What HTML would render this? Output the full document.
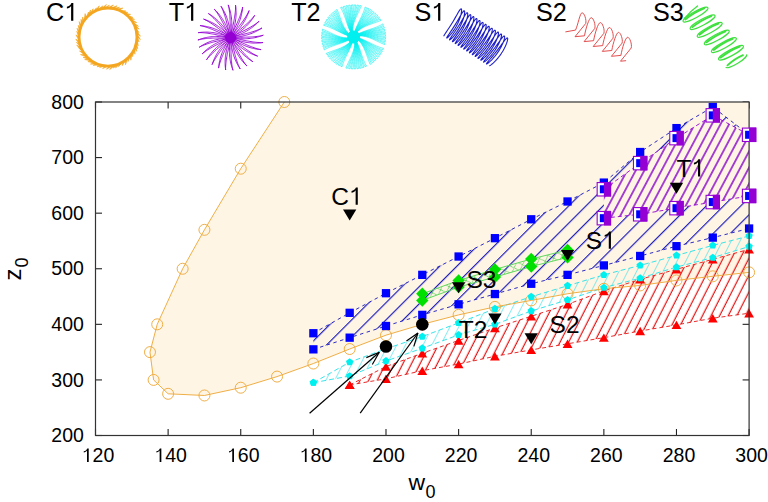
<!DOCTYPE html><html><head><meta charset="utf-8"><style>html,body{margin:0;padding:0;background:#fff;width:768px;height:502px;overflow:hidden}svg{display:block}</style></head><body>
<svg width="768" height="502" viewBox="0 0 768 502">
<defs>
<clipPath id="plot"><rect x="95.5" y="102" width="653.6" height="333.5"/></clipPath>
<pattern id="hb" patternUnits="userSpaceOnUse" width="40" height="12.16" patternTransform="rotate(-45)"><line x1="-1" y1="0.64" x2="41" y2="0.64" stroke="#1a1ab8" stroke-width="1.25"/><line x1="-1" y1="-11.53" x2="41" y2="-11.53" stroke="#1a1ab8" stroke-width="1.25"/></pattern>
<pattern id="hp" patternUnits="userSpaceOnUse" width="40" height="7.59" patternTransform="rotate(-62)"><line x1="-1" y1="3.8" x2="41" y2="3.8" stroke="#8400cc" stroke-width="1.2"/><line x1="-1" y1="-3.79" x2="41" y2="-3.79" stroke="#8400cc" stroke-width="1.2"/></pattern>
<pattern id="hr" patternUnits="userSpaceOnUse" width="40" height="7.66" patternTransform="rotate(-63)"><line x1="-1" y1="3.17" x2="41" y2="3.17" stroke="#e61414" stroke-width="1.1"/><line x1="-1" y1="-4.49" x2="41" y2="-4.49" stroke="#e61414" stroke-width="1.1"/></pattern>
<pattern id="hc" patternUnits="userSpaceOnUse" width="40" height="7.84" patternTransform="rotate(-63)"><line x1="-1" y1="0.04" x2="41" y2="0.04" stroke="#10dce6" stroke-width="1.1"/><line x1="-1" y1="-7.81" x2="41" y2="-7.81" stroke="#10dce6" stroke-width="1.1"/></pattern>
<pattern id="hg" patternUnits="userSpaceOnUse" width="9" height="9" patternTransform="rotate(-20)"><path d="M-1,-1L10,10M10,-1L-1,10" stroke="#48c848" stroke-width="0.75" fill="none"/></pattern>
</defs>
<line x1="95.5" y1="435.5" x2="95.5" y2="429" stroke="#222" stroke-width="1.1"/>
<line x1="95.5" y1="102" x2="95.5" y2="108.5" stroke="#222" stroke-width="1.1"/>
<path transform="translate(81.73,462.1) scale(19.5,-19.5)" d="M0.359,0L0.359,0.703L0.285,0.703C0.25,0.62 0.19,0.575 0.104,0.562L0.104,0.49C0.17,0.5 0.24,0.53 0.271,0.589L0.271,0Z" fill="#000"/><text x="92.58 103.42" y="462.1" font-size="19.5" fill="#000" font-family="Liberation Sans, sans-serif">20</text>
<line x1="168.12" y1="435.5" x2="168.12" y2="429" stroke="#222" stroke-width="1.1"/>
<line x1="168.12" y1="102" x2="168.12" y2="108.5" stroke="#222" stroke-width="1.1"/>
<path transform="translate(154.35,462.1) scale(19.5,-19.5)" d="M0.359,0L0.359,0.703L0.285,0.703C0.25,0.62 0.19,0.575 0.104,0.562L0.104,0.49C0.17,0.5 0.24,0.53 0.271,0.589L0.271,0Z" fill="#000"/><text x="165.2 176.04" y="462.1" font-size="19.5" fill="#000" font-family="Liberation Sans, sans-serif">40</text>
<line x1="240.74" y1="435.5" x2="240.74" y2="429" stroke="#222" stroke-width="1.1"/>
<line x1="240.74" y1="102" x2="240.74" y2="108.5" stroke="#222" stroke-width="1.1"/>
<path transform="translate(226.98,462.1) scale(19.5,-19.5)" d="M0.359,0L0.359,0.703L0.285,0.703C0.25,0.62 0.19,0.575 0.104,0.562L0.104,0.49C0.17,0.5 0.24,0.53 0.271,0.589L0.271,0Z" fill="#000"/><text x="237.82 248.67" y="462.1" font-size="19.5" fill="#000" font-family="Liberation Sans, sans-serif">60</text>
<line x1="313.37" y1="435.5" x2="313.37" y2="429" stroke="#222" stroke-width="1.1"/>
<line x1="313.37" y1="102" x2="313.37" y2="108.5" stroke="#222" stroke-width="1.1"/>
<path transform="translate(299.6,462.1) scale(19.5,-19.5)" d="M0.359,0L0.359,0.703L0.285,0.703C0.25,0.62 0.19,0.575 0.104,0.562L0.104,0.49C0.17,0.5 0.24,0.53 0.271,0.589L0.271,0Z" fill="#000"/><text x="310.44 321.29" y="462.1" font-size="19.5" fill="#000" font-family="Liberation Sans, sans-serif">80</text>
<line x1="385.99" y1="435.5" x2="385.99" y2="429" stroke="#222" stroke-width="1.1"/>
<line x1="385.99" y1="102" x2="385.99" y2="108.5" stroke="#222" stroke-width="1.1"/>
<text x="372.22 383.07 393.91" y="462.1" font-size="19.5" fill="#000" font-family="Liberation Sans, sans-serif">200</text>
<line x1="458.61" y1="435.5" x2="458.61" y2="429" stroke="#222" stroke-width="1.1"/>
<line x1="458.61" y1="102" x2="458.61" y2="108.5" stroke="#222" stroke-width="1.1"/>
<text x="444.84 455.69 466.53" y="462.1" font-size="19.5" fill="#000" font-family="Liberation Sans, sans-serif">220</text>
<line x1="531.23" y1="435.5" x2="531.23" y2="429" stroke="#222" stroke-width="1.1"/>
<line x1="531.23" y1="102" x2="531.23" y2="108.5" stroke="#222" stroke-width="1.1"/>
<text x="517.47 528.31 539.16" y="462.1" font-size="19.5" fill="#000" font-family="Liberation Sans, sans-serif">240</text>
<line x1="603.86" y1="435.5" x2="603.86" y2="429" stroke="#222" stroke-width="1.1"/>
<line x1="603.86" y1="102" x2="603.86" y2="108.5" stroke="#222" stroke-width="1.1"/>
<text x="590.09 600.93 611.78" y="462.1" font-size="19.5" fill="#000" font-family="Liberation Sans, sans-serif">260</text>
<line x1="676.48" y1="435.5" x2="676.48" y2="429" stroke="#222" stroke-width="1.1"/>
<line x1="676.48" y1="102" x2="676.48" y2="108.5" stroke="#222" stroke-width="1.1"/>
<text x="662.71 673.56 684.4" y="462.1" font-size="19.5" fill="#000" font-family="Liberation Sans, sans-serif">280</text>
<line x1="749.1" y1="435.5" x2="749.1" y2="429" stroke="#222" stroke-width="1.1"/>
<line x1="749.1" y1="102" x2="749.1" y2="108.5" stroke="#222" stroke-width="1.1"/>
<text x="735.33 746.18 757.02" y="462.1" font-size="19.5" fill="#000" font-family="Liberation Sans, sans-serif">300</text>
<line x1="95.5" y1="435.5" x2="102" y2="435.5" stroke="#222" stroke-width="1.1"/>
<line x1="749.1" y1="435.5" x2="742.6" y2="435.5" stroke="#222" stroke-width="1.1"/>
<text x="51.37 62.21 73.06" y="442.1" font-size="19.5" fill="#000" font-family="Liberation Sans, sans-serif">200</text>
<line x1="95.5" y1="379.92" x2="102" y2="379.92" stroke="#222" stroke-width="1.1"/>
<line x1="749.1" y1="379.92" x2="742.6" y2="379.92" stroke="#222" stroke-width="1.1"/>
<text x="51.37 62.21 73.06" y="386.52" font-size="19.5" fill="#000" font-family="Liberation Sans, sans-serif">300</text>
<line x1="95.5" y1="324.33" x2="102" y2="324.33" stroke="#222" stroke-width="1.1"/>
<line x1="749.1" y1="324.33" x2="742.6" y2="324.33" stroke="#222" stroke-width="1.1"/>
<text x="51.37 62.21 73.06" y="330.93" font-size="19.5" fill="#000" font-family="Liberation Sans, sans-serif">400</text>
<line x1="95.5" y1="268.75" x2="102" y2="268.75" stroke="#222" stroke-width="1.1"/>
<line x1="749.1" y1="268.75" x2="742.6" y2="268.75" stroke="#222" stroke-width="1.1"/>
<text x="51.37 62.21 73.06" y="275.35" font-size="19.5" fill="#000" font-family="Liberation Sans, sans-serif">500</text>
<line x1="95.5" y1="213.17" x2="102" y2="213.17" stroke="#222" stroke-width="1.1"/>
<line x1="749.1" y1="213.17" x2="742.6" y2="213.17" stroke="#222" stroke-width="1.1"/>
<text x="51.37 62.21 73.06" y="219.77" font-size="19.5" fill="#000" font-family="Liberation Sans, sans-serif">600</text>
<line x1="95.5" y1="157.58" x2="102" y2="157.58" stroke="#222" stroke-width="1.1"/>
<line x1="749.1" y1="157.58" x2="742.6" y2="157.58" stroke="#222" stroke-width="1.1"/>
<text x="51.37 62.21 73.06" y="164.18" font-size="19.5" fill="#000" font-family="Liberation Sans, sans-serif">700</text>
<line x1="95.5" y1="102" x2="102" y2="102" stroke="#222" stroke-width="1.1"/>
<line x1="749.1" y1="102" x2="742.6" y2="102" stroke="#222" stroke-width="1.1"/>
<text x="51.37 62.21 73.06" y="108.6" font-size="19.5" fill="#000" font-family="Liberation Sans, sans-serif">800</text>
<g clip-path="url(#plot)">
<polygon points="284.32,102 240.74,168.7 204.43,229.84 182.65,268.75 157.23,324.33 149.97,352.12 153.6,379.92 168.12,393.81 204.43,395.48 240.74,387.7 277.06,376.58 313.37,363.52 349.68,349.01 385.99,335.17 422.3,324.33 458.61,314.88 494.92,306.88 531.23,300.43 567.54,293.76 603.86,288.76 640.17,285.43 676.48,280.42 712.79,276.31 749.1,272.36 751.1,100 284.32,100" fill="#fff5e5"/>
<polygon points="349.68,384.92 385.99,366.58 422.3,353.24 458.61,340.45 494.92,327.95 531.23,316.27 567.54,304.32 603.86,290.98 640.17,279.31 676.48,269.31 712.79,259.3 749.1,249.3 749.1,313.22 712.79,318.22 676.48,324.89 640.17,331 603.86,337.67 567.54,343.79 531.23,349.9 494.92,356.29 458.61,364.08 422.3,370.69 385.99,378.81 349.68,384.92" fill="url(#hr)" />
<polygon points="313.37,382.7 349.68,362.13 385.99,348.79 422.3,336.56 458.61,322.89 494.92,308.77 531.23,296.76 567.54,285.76 603.86,274.86 640.17,265.41 676.48,255.41 712.79,245.41 749.1,235.96 749.1,246.52 712.79,257.63 676.48,267.08 640.17,278.2 603.86,287.65 567.54,299.88 531.23,310.99 494.92,324.33 458.61,334.89 422.3,348.23 385.99,361.02 349.68,376.03 313.37,382.7" fill="url(#hc)" />
<polygon points="422.3,293.76 458.61,280.42 494.92,269.47 531.23,258.97 567.54,250.02 567.54,257.41 531.23,266.53 494.92,277.09 458.61,287.09 422.3,300.43" fill="url(#hg)" />
<polygon points="313.37,333.23 349.68,312.83 385.99,293.21 422.3,274.86 458.61,256.52 494.92,238.18 531.23,219.28 567.54,201.49 603.86,182.6 640.17,152.02 676.48,128.12 712.79,107 749.1,134.79 749.1,228.51 712.79,237.62 676.48,246.18 640.17,255.97 603.86,265.41 567.54,274.86 531.23,283.76 494.92,294.04 458.61,304.32 422.3,314.88 385.99,326 349.68,337.67 313.37,349.35" fill="url(#hb)" />
<polygon points="603.86,189.27 640.17,163.14 676.48,138.13 712.79,115.34 749.1,134.79 749.1,195.94 712.79,202.05 676.48,208.16 640.17,214.28 603.86,218.17" fill="#fff5e5" />
<polygon points="603.86,189.27 640.17,163.14 676.48,138.13 712.79,115.34 749.1,134.79 749.1,195.94 712.79,202.05 676.48,208.16 640.17,214.28 603.86,218.17" fill="url(#hp)" />
<polyline points="349.68,384.92 385.99,366.58 422.3,353.24 458.61,340.45 494.92,327.95 531.23,316.27 567.54,304.32 603.86,290.98 640.17,279.31 676.48,269.31 712.79,259.3 749.1,249.3" fill="none" stroke="#e61414" stroke-width="0.9" stroke-dasharray="4,3"/>
<polyline points="349.68,384.92 385.99,378.81 422.3,370.69 458.61,364.08 494.92,356.29 531.23,349.9 567.54,343.79 603.86,337.67 640.17,331 676.48,324.89 712.79,318.22 749.1,313.22" fill="none" stroke="#e61414" stroke-width="0.9" stroke-dasharray="4,3"/>
<polyline points="313.37,382.7 349.68,362.13 385.99,348.79 422.3,336.56 458.61,322.89 494.92,308.77 531.23,296.76 567.54,285.76 603.86,274.86 640.17,265.41 676.48,255.41 712.79,245.41 749.1,235.96" fill="none" stroke="#20e0e8" stroke-width="0.9" stroke-dasharray="5,3"/>
<polyline points="313.37,382.7 349.68,376.03 385.99,361.02 422.3,348.23 458.61,334.89 494.92,324.33 531.23,310.99 567.54,299.88 603.86,287.65 640.17,278.2 676.48,267.08 712.79,257.63 749.1,246.52" fill="none" stroke="#20e0e8" stroke-width="0.9" stroke-dasharray="5,3"/>
<polyline points="313.37,333.23 349.68,312.83 385.99,293.21 422.3,274.86 458.61,256.52 494.92,238.18 531.23,219.28 567.54,201.49 603.86,182.6 640.17,152.02 676.48,128.12 712.79,107 749.1,134.79" fill="none" stroke="#1414c0" stroke-width="0.9" stroke-dasharray="3.5,3.5"/>
<polyline points="313.37,349.35 349.68,337.67 385.99,326 422.3,314.88 458.61,304.32 494.92,294.04 531.23,283.76 567.54,274.86 603.86,265.41 640.17,255.97 676.48,246.18 712.79,237.62 749.1,228.51" fill="none" stroke="#1414c0" stroke-width="0.9" stroke-dasharray="3.5,3.5"/>
<polyline points="603.86,189.27 640.17,163.14 676.48,138.13 712.79,115.34 749.1,134.79" fill="none" stroke="#9400d3" stroke-width="0.9" stroke-dasharray="4,3"/>
<polyline points="603.86,218.17 640.17,214.28 676.48,208.16 712.79,202.05 749.1,195.94" fill="none" stroke="#9400d3" stroke-width="0.9" stroke-dasharray="4,3"/>
<polyline points="422.3,293.76 458.61,280.42 494.92,269.47 531.23,258.97 567.54,250.02" fill="none" stroke="#60d860" stroke-width="1"/>
<polyline points="422.3,300.43 458.61,287.09 494.92,277.09 531.23,266.53 567.54,257.41" fill="none" stroke="#60d860" stroke-width="1"/>
<polyline points="284.32,102 240.74,168.7 204.43,229.84 182.65,268.75 157.23,324.33 149.97,352.12 153.6,379.92 168.12,393.81 204.43,395.48 240.74,387.7 277.06,376.58 313.37,363.52 349.68,349.01 385.99,335.17 422.3,324.33 458.61,314.88 494.92,306.88 531.23,300.43 567.54,293.76 603.86,288.76 640.17,285.43 676.48,280.42 712.79,276.31 749.1,272.36" fill="none" stroke="#eeaa3c" stroke-width="0.95"/>
</g>
<circle cx="284.32" cy="102" r="5.5" fill="none" stroke="#eeaa3c" stroke-width="0.95"/>
<circle cx="240.74" cy="168.7" r="5.5" fill="none" stroke="#eeaa3c" stroke-width="0.95"/>
<circle cx="204.43" cy="229.84" r="5.5" fill="none" stroke="#eeaa3c" stroke-width="0.95"/>
<circle cx="182.65" cy="268.75" r="5.5" fill="none" stroke="#eeaa3c" stroke-width="0.95"/>
<circle cx="157.23" cy="324.33" r="5.5" fill="none" stroke="#eeaa3c" stroke-width="0.95"/>
<circle cx="149.97" cy="352.12" r="5.5" fill="none" stroke="#eeaa3c" stroke-width="0.95"/>
<circle cx="153.6" cy="379.92" r="5.5" fill="none" stroke="#eeaa3c" stroke-width="0.95"/>
<circle cx="168.12" cy="393.81" r="5.5" fill="none" stroke="#eeaa3c" stroke-width="0.95"/>
<circle cx="204.43" cy="395.48" r="5.5" fill="none" stroke="#eeaa3c" stroke-width="0.95"/>
<circle cx="240.74" cy="387.7" r="5.5" fill="none" stroke="#eeaa3c" stroke-width="0.95"/>
<circle cx="277.06" cy="376.58" r="5.5" fill="none" stroke="#eeaa3c" stroke-width="0.95"/>
<circle cx="313.37" cy="363.52" r="5.5" fill="none" stroke="#eeaa3c" stroke-width="0.95"/>
<circle cx="349.68" cy="349.01" r="5.5" fill="none" stroke="#eeaa3c" stroke-width="0.95"/>
<circle cx="385.99" cy="335.17" r="5.5" fill="none" stroke="#eeaa3c" stroke-width="0.95"/>
<circle cx="422.3" cy="324.33" r="5.5" fill="none" stroke="#eeaa3c" stroke-width="0.95"/>
<circle cx="458.61" cy="314.88" r="5.5" fill="none" stroke="#eeaa3c" stroke-width="0.95"/>
<circle cx="494.92" cy="306.88" r="5.5" fill="none" stroke="#eeaa3c" stroke-width="0.95"/>
<circle cx="531.23" cy="300.43" r="5.5" fill="none" stroke="#eeaa3c" stroke-width="0.95"/>
<circle cx="567.54" cy="293.76" r="5.5" fill="none" stroke="#eeaa3c" stroke-width="0.95"/>
<circle cx="603.86" cy="288.76" r="5.5" fill="none" stroke="#eeaa3c" stroke-width="0.95"/>
<circle cx="640.17" cy="285.43" r="5.5" fill="none" stroke="#eeaa3c" stroke-width="0.95"/>
<circle cx="676.48" cy="280.42" r="5.5" fill="none" stroke="#eeaa3c" stroke-width="0.95"/>
<circle cx="712.79" cy="276.31" r="5.5" fill="none" stroke="#eeaa3c" stroke-width="0.95"/>
<circle cx="749.1" cy="272.36" r="5.5" fill="none" stroke="#eeaa3c" stroke-width="0.95"/>
<polygon points="344.78,389.12 354.58,389.12 349.68,380.72" fill="#ff0000"/>
<polygon points="381.09,370.78 390.89,370.78 385.99,362.38" fill="#ff0000"/>
<polygon points="417.4,357.44 427.2,357.44 422.3,349.04" fill="#ff0000"/>
<polygon points="453.71,344.65 463.51,344.65 458.61,336.25" fill="#ff0000"/>
<polygon points="490.02,332.15 499.82,332.15 494.92,323.75" fill="#ff0000"/>
<polygon points="526.33,320.47 536.13,320.47 531.23,312.07" fill="#ff0000"/>
<polygon points="562.64,308.52 572.44,308.52 567.54,300.12" fill="#ff0000"/>
<polygon points="598.96,295.18 608.76,295.18 603.86,286.78" fill="#ff0000"/>
<polygon points="635.27,283.51 645.07,283.51 640.17,275.11" fill="#ff0000"/>
<polygon points="671.58,273.51 681.38,273.51 676.48,265.11" fill="#ff0000"/>
<polygon points="707.89,263.5 717.69,263.5 712.79,255.1" fill="#ff0000"/>
<polygon points="744.2,253.5 754,253.5 749.1,245.1" fill="#ff0000"/>
<polygon points="344.78,389.12 354.58,389.12 349.68,380.72" fill="#ff0000"/>
<polygon points="381.09,383 390.89,383 385.99,374.61" fill="#ff0000"/>
<polygon points="417.4,374.89 427.2,374.89 422.3,366.49" fill="#ff0000"/>
<polygon points="453.71,368.28 463.51,368.28 458.61,359.88" fill="#ff0000"/>
<polygon points="490.02,360.49 499.82,360.49 494.92,352.09" fill="#ff0000"/>
<polygon points="526.33,354.1 536.13,354.1 531.23,345.7" fill="#ff0000"/>
<polygon points="562.64,347.99 572.44,347.99 567.54,339.59" fill="#ff0000"/>
<polygon points="598.96,341.87 608.76,341.87 603.86,333.47" fill="#ff0000"/>
<polygon points="635.27,335.2 645.07,335.2 640.17,326.8" fill="#ff0000"/>
<polygon points="671.58,329.09 681.38,329.09 676.48,320.69" fill="#ff0000"/>
<polygon points="707.89,322.42 717.69,322.42 712.79,314.02" fill="#ff0000"/>
<polygon points="744.2,317.42 754,317.42 749.1,309.02" fill="#ff0000"/>
<polygon points="313.37,378.8 317.08,381.49 315.66,385.85 311.07,385.85 309.66,381.49" fill="#00f0f0"/>
<polygon points="349.68,358.23 353.39,360.92 351.97,365.29 347.39,365.29 345.97,360.92" fill="#00f0f0"/>
<polygon points="385.99,344.89 389.7,347.58 388.28,351.95 383.7,351.95 382.28,347.58" fill="#00f0f0"/>
<polygon points="422.3,332.66 426.01,335.36 424.59,339.72 420.01,339.72 418.59,335.36" fill="#00f0f0"/>
<polygon points="458.61,318.99 462.32,321.68 460.9,326.04 456.32,326.04 454.9,321.68" fill="#00f0f0"/>
<polygon points="494.92,304.87 498.63,307.56 497.21,311.93 492.63,311.93 491.21,307.56" fill="#00f0f0"/>
<polygon points="531.23,292.86 534.94,295.56 533.53,299.92 528.94,299.92 527.52,295.56" fill="#00f0f0"/>
<polygon points="567.54,281.86 571.25,284.55 569.84,288.91 565.25,288.91 563.84,284.55" fill="#00f0f0"/>
<polygon points="603.86,270.96 607.56,273.66 606.15,278.02 601.56,278.02 600.15,273.66" fill="#00f0f0"/>
<polygon points="640.17,261.51 643.88,264.21 642.46,268.57 637.87,268.57 636.46,264.21" fill="#00f0f0"/>
<polygon points="676.48,251.51 680.19,254.2 678.77,258.57 674.19,258.57 672.77,254.2" fill="#00f0f0"/>
<polygon points="712.79,241.5 716.5,244.2 715.08,248.56 710.5,248.56 709.08,244.2" fill="#00f0f0"/>
<polygon points="749.1,232.06 752.81,234.75 751.39,239.11 746.81,239.11 745.39,234.75" fill="#00f0f0"/>
<polygon points="313.37,378.8 317.08,381.49 315.66,385.85 311.07,385.85 309.66,381.49" fill="#00f0f0"/>
<polygon points="349.68,372.13 353.39,374.82 351.97,379.18 347.39,379.18 345.97,374.82" fill="#00f0f0"/>
<polygon points="385.99,357.12 389.7,359.81 388.28,364.17 383.7,364.17 382.28,359.81" fill="#00f0f0"/>
<polygon points="422.3,344.33 426.01,347.03 424.59,351.39 420.01,351.39 418.59,347.03" fill="#00f0f0"/>
<polygon points="458.61,330.99 462.32,333.69 460.9,338.05 456.32,338.05 454.9,333.69" fill="#00f0f0"/>
<polygon points="494.92,320.43 498.63,323.13 497.21,327.49 492.63,327.49 491.21,323.13" fill="#00f0f0"/>
<polygon points="531.23,307.09 534.94,309.79 533.53,314.15 528.94,314.15 527.52,309.79" fill="#00f0f0"/>
<polygon points="567.54,295.98 571.25,298.67 569.84,303.03 565.25,303.03 563.84,298.67" fill="#00f0f0"/>
<polygon points="603.86,283.75 607.56,286.44 606.15,290.8 601.56,290.8 600.15,286.44" fill="#00f0f0"/>
<polygon points="640.17,274.3 643.88,276.99 642.46,281.35 637.87,281.35 636.46,276.99" fill="#00f0f0"/>
<polygon points="676.48,263.18 680.19,265.88 678.77,270.24 674.19,270.24 672.77,265.88" fill="#00f0f0"/>
<polygon points="712.79,253.73 716.5,256.43 715.08,260.79 710.5,260.79 709.08,256.43" fill="#00f0f0"/>
<polygon points="749.1,242.62 752.81,245.31 751.39,249.67 746.81,249.67 745.39,245.31" fill="#00f0f0"/>
<rect x="309.22" y="329.08" width="8.3" height="8.3" fill="#0000ff"/>
<rect x="345.53" y="308.68" width="8.3" height="8.3" fill="#0000ff"/>
<rect x="381.84" y="289.06" width="8.3" height="8.3" fill="#0000ff"/>
<rect x="418.15" y="270.71" width="8.3" height="8.3" fill="#0000ff"/>
<rect x="454.46" y="252.37" width="8.3" height="8.3" fill="#0000ff"/>
<rect x="490.77" y="234.03" width="8.3" height="8.3" fill="#0000ff"/>
<rect x="527.08" y="215.13" width="8.3" height="8.3" fill="#0000ff"/>
<rect x="563.39" y="197.34" width="8.3" height="8.3" fill="#0000ff"/>
<rect x="599.71" y="178.45" width="8.3" height="8.3" fill="#0000ff"/>
<rect x="636.02" y="147.87" width="8.3" height="8.3" fill="#0000ff"/>
<rect x="672.33" y="123.97" width="8.3" height="8.3" fill="#0000ff"/>
<rect x="708.64" y="102.85" width="8.3" height="8.3" fill="#0000ff"/>
<rect x="744.95" y="130.64" width="8.3" height="8.3" fill="#0000ff"/>
<rect x="309.22" y="345.2" width="8.3" height="8.3" fill="#0000ff"/>
<rect x="345.53" y="333.52" width="8.3" height="8.3" fill="#0000ff"/>
<rect x="381.84" y="321.85" width="8.3" height="8.3" fill="#0000ff"/>
<rect x="418.15" y="310.73" width="8.3" height="8.3" fill="#0000ff"/>
<rect x="454.46" y="300.17" width="8.3" height="8.3" fill="#0000ff"/>
<rect x="490.77" y="289.89" width="8.3" height="8.3" fill="#0000ff"/>
<rect x="527.08" y="279.61" width="8.3" height="8.3" fill="#0000ff"/>
<rect x="563.39" y="270.71" width="8.3" height="8.3" fill="#0000ff"/>
<rect x="599.71" y="261.26" width="8.3" height="8.3" fill="#0000ff"/>
<rect x="636.02" y="251.82" width="8.3" height="8.3" fill="#0000ff"/>
<rect x="672.33" y="242.03" width="8.3" height="8.3" fill="#0000ff"/>
<rect x="708.64" y="233.47" width="8.3" height="8.3" fill="#0000ff"/>
<rect x="744.95" y="224.36" width="8.3" height="8.3" fill="#0000ff"/>
<polygon points="422.3,287.56 428.5,293.76 422.3,299.96 416.1,293.76" fill="#00e000"/>
<polygon points="458.61,274.22 464.81,280.42 458.61,286.62 452.41,280.42" fill="#00e000"/>
<polygon points="494.92,263.27 501.12,269.47 494.92,275.67 488.72,269.47" fill="#00e000"/>
<polygon points="531.23,252.77 537.43,258.97 531.23,265.17 525.03,258.97" fill="#00e000"/>
<polygon points="567.54,243.82 573.74,250.02 567.54,256.22 561.34,250.02" fill="#00e000"/>
<polygon points="422.3,294.23 428.5,300.43 422.3,306.63 416.1,300.43" fill="#00e000"/>
<polygon points="458.61,280.89 464.81,287.09 458.61,293.29 452.41,287.09" fill="#00e000"/>
<polygon points="494.92,270.89 501.12,277.09 494.92,283.29 488.72,277.09" fill="#00e000"/>
<polygon points="531.23,260.33 537.43,266.53 531.23,272.73 525.03,266.53" fill="#00e000"/>
<polygon points="567.54,251.21 573.74,257.41 567.54,263.61 561.34,257.41" fill="#00e000"/>
<circle cx="385.99" cy="346.57" r="6.3" fill="#000"/>
<circle cx="422.3" cy="324.33" r="6.3" fill="#000"/>
<polygon points="343.03,209.5 356.33,209.5 349.68,220.5" fill="#000"/>
<polygon points="451.96,282.31 465.26,282.31 458.61,293.31" fill="#000"/>
<polygon points="560.89,250.08 574.19,250.08 567.54,261.08" fill="#000"/>
<polygon points="488.27,313.44 501.57,313.44 494.92,324.44" fill="#000"/>
<polygon points="524.58,333.17 537.88,333.17 531.23,344.17" fill="#000"/>
<polygon points="669.83,182.82 683.13,182.82 676.48,193.82" fill="#000"/>
<rect x="95.5" y="102" width="653.6" height="333.5" fill="none" stroke="#333" stroke-width="1.2"/>
<rect x="597.16" y="182.57" width="13.4" height="13.4" fill="#fff" stroke="#9400d3" stroke-width="1.1"/>
<rect x="599.86" y="185.27" width="8" height="8" fill="#0000ff"/>
<rect x="603.86" y="182.02" width="7.2" height="14.5" fill="#9400d3"/>
<rect x="633.47" y="156.44" width="13.4" height="13.4" fill="#fff" stroke="#9400d3" stroke-width="1.1"/>
<rect x="636.17" y="159.14" width="8" height="8" fill="#0000ff"/>
<rect x="640.17" y="155.89" width="7.2" height="14.5" fill="#9400d3"/>
<rect x="669.78" y="131.43" width="13.4" height="13.4" fill="#fff" stroke="#9400d3" stroke-width="1.1"/>
<rect x="672.48" y="134.13" width="8" height="8" fill="#0000ff"/>
<rect x="676.48" y="130.88" width="7.2" height="14.5" fill="#9400d3"/>
<rect x="706.09" y="108.64" width="13.4" height="13.4" fill="#fff" stroke="#9400d3" stroke-width="1.1"/>
<rect x="708.79" y="111.34" width="8" height="8" fill="#0000ff"/>
<rect x="712.79" y="108.09" width="7.2" height="14.5" fill="#9400d3"/>
<rect x="742.4" y="128.09" width="13.4" height="13.4" fill="#fff" stroke="#9400d3" stroke-width="1.1"/>
<rect x="745.1" y="130.79" width="8" height="8" fill="#0000ff"/>
<rect x="749.1" y="127.54" width="7.2" height="14.5" fill="#9400d3"/>
<rect x="597.16" y="211.47" width="13.4" height="13.4" fill="#fff" stroke="#9400d3" stroke-width="1.1"/>
<rect x="599.86" y="214.17" width="8" height="8" fill="#0000ff"/>
<rect x="603.86" y="210.92" width="7.2" height="14.5" fill="#9400d3"/>
<rect x="633.47" y="207.58" width="13.4" height="13.4" fill="#fff" stroke="#9400d3" stroke-width="1.1"/>
<rect x="636.17" y="210.28" width="8" height="8" fill="#0000ff"/>
<rect x="640.17" y="207.03" width="7.2" height="14.5" fill="#9400d3"/>
<rect x="669.78" y="201.46" width="13.4" height="13.4" fill="#fff" stroke="#9400d3" stroke-width="1.1"/>
<rect x="672.48" y="204.16" width="8" height="8" fill="#0000ff"/>
<rect x="676.48" y="200.91" width="7.2" height="14.5" fill="#9400d3"/>
<rect x="706.09" y="195.35" width="13.4" height="13.4" fill="#fff" stroke="#9400d3" stroke-width="1.1"/>
<rect x="708.79" y="198.05" width="8" height="8" fill="#0000ff"/>
<rect x="712.79" y="194.8" width="7.2" height="14.5" fill="#9400d3"/>
<rect x="742.4" y="189.24" width="13.4" height="13.4" fill="#fff" stroke="#9400d3" stroke-width="1.1"/>
<rect x="745.1" y="191.94" width="8" height="8" fill="#0000ff"/>
<rect x="749.1" y="188.69" width="7.2" height="14.5" fill="#9400d3"/>
<line x1="309.6" y1="413.2" x2="379.3" y2="352.3" stroke="#000" stroke-width="1.2"/>
<line x1="379.3" y1="352.3" x2="372.33" y2="364.44" stroke="#000" stroke-width="1.2"/>
<line x1="379.3" y1="352.3" x2="366.33" y2="357.58" stroke="#000" stroke-width="1.2"/>
<line x1="360.2" y1="413.2" x2="417.9" y2="333" stroke="#000" stroke-width="1.2"/>
<line x1="417.9" y1="333" x2="413.87" y2="346.41" stroke="#000" stroke-width="1.2"/>
<line x1="417.9" y1="333" x2="406.47" y2="341.08" stroke="#000" stroke-width="1.2"/>
<text x="408.6" y="490.1" font-size="22" textLength="16.6" lengthAdjust="spacingAndGlyphs" font-family="Liberation Sans, sans-serif">w</text>
<text x="425.5" y="497.5" font-size="18" font-family="Liberation Sans, sans-serif">0</text>
<g transform="translate(21.1,280.5) rotate(-90)"><text x="0" y="0" font-size="24" font-family="Liberation Sans, sans-serif">z</text><text x="13.1" y="6.6" font-size="18" font-family="Liberation Sans, sans-serif">0</text></g>
<path transform="translate(348.99,204.8) scale(24.5,-24.5)" d="M0.359,0L0.359,0.703L0.285,0.703C0.25,0.62 0.19,0.575 0.104,0.562L0.104,0.49C0.17,0.5 0.24,0.53 0.271,0.589L0.271,0Z" fill="#000"/><text x="331.3" y="204.8" font-size="24.5" fill="#000" font-family="Liberation Sans, sans-serif">C</text>
<path transform="translate(602.14,248.8) scale(24.5,-24.5)" d="M0.359,0L0.359,0.703L0.285,0.703C0.25,0.62 0.19,0.575 0.104,0.562L0.104,0.49C0.17,0.5 0.24,0.53 0.271,0.589L0.271,0Z" fill="#000"/><text x="585.8" y="248.8" font-size="24.5" fill="#000" font-family="Liberation Sans, sans-serif">S</text>
<path transform="translate(691.37,176.5) scale(24.5,-24.5)" d="M0.359,0L0.359,0.703L0.285,0.703C0.25,0.62 0.19,0.575 0.104,0.562L0.104,0.49C0.17,0.5 0.24,0.53 0.271,0.589L0.271,0Z" fill="#000"/><text x="676.4" y="176.5" font-size="24.5" fill="#000" font-family="Liberation Sans, sans-serif">T</text>
<text x="549.6 565.94" y="332.5" font-size="24.5" fill="#000" font-family="Liberation Sans, sans-serif">S2</text>
<text x="466.4 482.74" y="287.8" font-size="24.5" fill="#000" font-family="Liberation Sans, sans-serif">S3</text>
<text x="458.7 473.67" y="337.75" font-size="24.5" fill="#000" font-family="Liberation Sans, sans-serif">T2</text>
<path transform="translate(64.27,20.8) scale(25.2,-25.2)" d="M0.359,0L0.359,0.703L0.285,0.703C0.25,0.62 0.19,0.575 0.104,0.562L0.104,0.49C0.17,0.5 0.24,0.53 0.271,0.589L0.271,0Z" fill="#000"/><text x="46.07" y="20.8" font-size="25.2" fill="#000" font-family="Liberation Sans, sans-serif">C</text>
<path transform="translate(184.23,20.8) scale(25.2,-25.2)" d="M0.359,0L0.359,0.703L0.285,0.703C0.25,0.62 0.19,0.575 0.104,0.562L0.104,0.49C0.17,0.5 0.24,0.53 0.271,0.589L0.271,0Z" fill="#000"/><text x="168.83" y="20.8" font-size="25.2" fill="#000" font-family="Liberation Sans, sans-serif">T</text>
<text x="291.13 306.53" y="20.8" font-size="25.2" fill="#000" font-family="Liberation Sans, sans-serif">T2</text>
<path transform="translate(431.26,20.8) scale(25.2,-25.2)" d="M0.359,0L0.359,0.703L0.285,0.703C0.25,0.62 0.19,0.575 0.104,0.562L0.104,0.49C0.17,0.5 0.24,0.53 0.271,0.589L0.271,0Z" fill="#000"/><text x="414.46" y="20.8" font-size="25.2" fill="#000" font-family="Liberation Sans, sans-serif">S</text>
<text x="536.06 552.86" y="20.8" font-size="25.2" fill="#000" font-family="Liberation Sans, sans-serif">S2</text>
<text x="653.06 669.86" y="20.8" font-size="25.2" fill="#000" font-family="Liberation Sans, sans-serif">S3</text>
<circle cx="108" cy="37.1" r="28.9" fill="none" stroke="#f4a620" stroke-width="2.7"/>
<path d="M137.5,36.89L139.13,42.06L137.39,39.69ZM137.32,40.36L138.22,45.65L136.88,43.13ZM136.85,43.27L137.63,48.79L136.13,45.98ZM136.21,45.72L136.71,51.38L135.27,48.36ZM135.17,48.6L134.98,54.22L133.95,51.12ZM133.8,51.41L132.61,56.66L132.32,53.79ZM131.92,54.37L130.9,60.22L130.17,56.56ZM130.22,56.51L128.08,61.54L128.28,58.53ZM127.63,59.12L125.46,64.77L125.45,60.89ZM125.27,61.02L122.17,65.68L122.92,62.55ZM122.26,62.92L118.45,66.68L119.75,64.16ZM119.61,64.22L115.53,67.93L116.99,65.2ZM117.51,65.02L113.12,68.16L114.82,65.8ZM114.35,65.91L109.69,69.58L111.59,66.38ZM111.46,66.4L106.47,69.24L108.66,66.59ZM107.84,66.6L102.59,68.5L105.04,66.45ZM104.86,66.43L99.58,67.34L102.09,66ZM102.38,66.06L96.96,66.72L99.65,65.39ZM98.68,65.09L93.07,65.34L96.07,64.08ZM96.2,64.14L90.46,64.08L93.69,62.9ZM93.3,62.68L87.87,61.65L90.94,61.17ZM90.38,60.76L84.68,59.52L88.22,58.98ZM88.49,59.22L83.05,57.4L86.48,57.27ZM86.06,56.82L80.49,54.62L84.29,54.65ZM83.98,54.22L79.48,51.02L82.46,51.86ZM82.17,51.36L78.32,47.58L80.94,48.84ZM81.09,49.19L76.63,45.35L80.06,46.58ZM80.07,46.61L76.39,42.3L79.3,43.91ZM79.26,43.76L75.76,39.13L78.76,41.01ZM78.63,39.87L75.92,34.82L78.5,37.07ZM78.5,36.66L76.74,31.41L78.68,33.86ZM78.69,33.79L77.04,28.28L79.13,31.02ZM79.16,30.87L78.27,25.31L79.88,28.17ZM80.07,27.6L79.18,21.62L81.1,25ZM81.04,25.13L81.04,19.32L82.3,22.63ZM82.2,22.8L82.66,16.98L83.67,20.42ZM84.24,19.62L85.14,13.6L86,17.44ZM86.33,17.08L88.55,12.03L88.33,15.12ZM88.16,15.27L90.5,9.95L90.32,13.48ZM90.21,13.57L93.16,8.76L92.52,11.99ZM92.91,11.75L96.56,7.78L95.38,10.43ZM95.53,10.37L99.3,5.84L98.12,9.3ZM98.47,9.18L102.83,5.85L101.16,8.4ZM101.74,8.27L106.41,4.53L104.5,7.81ZM104.42,7.82L109.39,5.16L107.22,7.61ZM108.06,7.6L113.42,4.93L110.86,7.74ZM111.46,7.8L117.09,5.8L114.22,8.26ZM113.88,8.19L119.41,7.29L116.59,8.88ZM116.96,8.99L122.88,8.06L119.58,9.97ZM120.49,10.37L125.86,11.12L122.97,11.68ZM122.42,11.36L127.79,12.41L124.79,12.85ZM125.08,13.05L130.58,14.39L127.29,14.78ZM127.82,15.25L132.86,17.44L129.8,17.23ZM129.53,16.93L134.57,19.39L131.34,19.06ZM131.77,19.64L136.68,22.58L133.32,21.97ZM133.81,22.82L138.48,26.3L135.05,25.33ZM134.96,25.12L139.2,29.03L135.97,27.73ZM136.12,28.18L139.06,32.66L136.84,30.89ZM136.95,31.43L140.46,36.18L137.36,34.2ZM137.38,34.46L140.4,39.54L137.5,37.26Z" fill="#f4a620" stroke="#f4a620" stroke-width="0.6" stroke-linejoin="round"/>
<polyline points="235.06,38.23 236.21,38.35 237.37,38.47 238.53,38.56 239.69,38.64 240.85,38.7 242.02,38.75 243.18,38.77 244.35,38.77 245.52,38.75 246.69,38.7 247.86,38.63 249.03,38.54 250.2,38.43 251.36,38.28 252.53,38.11 253.7,37.91 254.86,37.69 256.02,37.44 257.18,37.15 258.34,36.84 259.49,36.5 260.64,36.13 261.78,35.74 262.92,35.33" fill="none" stroke="#9400d3" stroke-width="0.9" stroke-linecap="round"/>
<polyline points="235.1,37.4 236.26,37.37 237.42,37.34 238.58,37.32 239.74,37.29 240.91,37.27 242.07,37.25 243.23,37.23 244.39,37.21 245.56,37.18 246.72,37.15 247.88,37.11 249.04,37.07 250.2,37.01 251.36,36.95 252.53,36.87 253.69,36.78 254.84,36.67 256,36.55 257.16,36.41 258.32,36.25 259.47,36.06 260.62,35.85 261.77,35.62 262.92,35.33" fill="none" stroke="#9400d3" stroke-width="0.9" stroke-linecap="round"/>
<polyline points="234.81,39.2 235.9,39.58 237.01,39.95 238.12,40.3 239.23,40.64 240.35,40.96 241.48,41.26 242.61,41.54 243.75,41.8 244.89,42.04 246.04,42.25 247.19,42.45 248.35,42.62 249.52,42.76 250.69,42.88 251.87,42.98 253.05,43.05 254.23,43.09 255.42,43.1 256.62,43.08 257.81,43.03 259.01,42.96 260.21,42.86 261.41,42.73 262.61,42.58" fill="none" stroke="#9400d3" stroke-width="0.9" stroke-linecap="round"/>
<polyline points="235.03,38.41 236.17,38.63 237.31,38.86 238.45,39.1 239.58,39.34 240.72,39.58 241.86,39.82 243,40.05 244.14,40.29 245.27,40.52 246.41,40.75 247.56,40.97 248.7,41.18 249.84,41.39 250.99,41.58 252.14,41.77 253.29,41.94 254.44,42.09 255.6,42.23 256.76,42.35 257.92,42.45 259.09,42.53 260.26,42.58 261.43,42.6 262.61,42.58" fill="none" stroke="#9400d3" stroke-width="0.9" stroke-linecap="round"/>
<polyline points="234.34,40.1 235.33,40.71 236.32,41.32 237.33,41.91 238.34,42.48 239.36,43.04 240.39,43.59 241.43,44.11 242.48,44.62 243.54,45.11 244.62,45.57 245.7,46.02 246.79,46.44 247.9,46.85 249.01,47.22 250.14,47.58 251.27,47.9 252.42,48.21 253.58,48.48 254.75,48.73 255.92,48.95 257.11,49.15 258.3,49.31 259.5,49.46 260.7,49.58" fill="none" stroke="#9400d3" stroke-width="0.9" stroke-linecap="round"/>
<polyline points="234.74,39.37 235.8,39.85 236.86,40.32 237.92,40.81 238.97,41.29 240.03,41.78 241.08,42.26 242.14,42.75 243.2,43.23 244.26,43.71 245.32,44.19 246.38,44.66 247.45,45.12 248.52,45.58 249.59,46.02 250.67,46.45 251.76,46.88 252.85,47.28 253.94,47.68 255.05,48.05 256.16,48.41 257.28,48.74 258.41,49.05 259.55,49.34 260.7,49.58" fill="none" stroke="#9400d3" stroke-width="0.9" stroke-linecap="round"/>
<polyline points="233.69,40.87 234.52,41.69 235.35,42.5 236.2,43.3 237.06,44.08 237.93,44.86 238.81,45.61 239.71,46.36 240.62,47.09 241.55,47.8 242.49,48.49 243.45,49.17 244.42,49.83 245.41,50.46 246.41,51.08 247.43,51.67 248.46,52.25 249.51,52.8 250.58,53.32 251.66,53.83 252.76,54.3 253.87,54.76 255,55.18 256.14,55.59 257.28,55.98" fill="none" stroke="#9400d3" stroke-width="0.9" stroke-linecap="round"/>
<polyline points="234.24,40.25 235.17,40.95 236.09,41.65 237.02,42.35 237.94,43.06 238.86,43.77 239.78,44.48 240.7,45.19 241.63,45.9 242.55,46.6 243.48,47.3 244.41,47.99 245.35,48.68 246.29,49.36 247.24,50.04 248.2,50.7 249.16,51.35 250.13,51.99 251.12,52.62 252.11,53.23 253.11,53.82 254.13,54.4 255.16,54.96 256.21,55.49 257.28,55.98" fill="none" stroke="#9400d3" stroke-width="0.9" stroke-linecap="round"/>
<polyline points="232.89,41.47 233.51,42.46 234.14,43.43 234.79,44.4 235.45,45.36 236.13,46.3 236.82,47.24 237.53,48.17 238.26,49.08 239.01,49.98 239.77,50.86 240.55,51.74 241.35,52.59 242.17,53.43 243.01,54.26 243.87,55.07 244.76,55.85 245.66,56.62 246.58,57.37 247.52,58.11 248.49,58.82 249.47,59.5 250.47,60.17 251.49,60.82 252.52,61.46" fill="none" stroke="#9400d3" stroke-width="0.9" stroke-linecap="round"/>
<polyline points="233.56,40.99 234.31,41.88 235.06,42.77 235.8,43.66 236.54,44.56 237.28,45.46 238.02,46.35 238.76,47.25 239.51,48.14 240.25,49.03 241,49.92 241.76,50.81 242.52,51.69 243.28,52.56 244.06,53.43 244.84,54.29 245.64,55.14 246.44,55.98 247.26,56.81 248.09,57.62 248.94,58.43 249.8,59.22 250.68,59.99 251.59,60.74 252.52,61.46" fill="none" stroke="#9400d3" stroke-width="0.9" stroke-linecap="round"/>
<polyline points="231.97,41.89 232.35,42.98 232.76,44.08 233.17,45.16 233.6,46.24 234.05,47.32 234.52,48.38 235.01,49.44 235.51,50.5 236.04,51.54 236.59,52.57 237.16,53.6 237.75,54.61 238.36,55.61 238.99,56.6 239.65,57.58 240.34,58.55 241.05,59.5 241.78,60.44 242.54,61.36 243.32,62.26 244.12,63.15 244.95,64.03 245.8,64.89 246.67,65.74" fill="none" stroke="#9400d3" stroke-width="0.9" stroke-linecap="round"/>
<polyline points="232.73,41.56 233.26,42.6 233.79,43.63 234.32,44.67 234.84,45.71 235.37,46.75 235.89,47.78 236.41,48.82 236.94,49.86 237.47,50.89 238,51.93 238.54,52.96 239.08,53.98 239.64,55.01 240.2,56.02 240.77,57.04 241.36,58.04 241.96,59.04 242.57,60.03 243.2,61.01 243.84,61.99 244.51,62.95 245.2,63.89 245.91,64.83 246.67,65.74" fill="none" stroke="#9400d3" stroke-width="0.9" stroke-linecap="round"/>
<polyline points="230.98,42.08 231.11,43.24 231.26,44.39 231.42,45.54 231.61,46.69 231.8,47.84 232.02,48.99 232.26,50.13 232.52,51.27 232.8,52.4 233.1,53.53 233.43,54.65 233.78,55.77 234.16,56.89 234.56,57.99 234.98,59.1 235.43,60.19 235.91,61.27 236.42,62.35 236.95,63.42 237.51,64.48 238.1,65.52 238.71,66.56 239.35,67.59 240,68.61" fill="none" stroke="#9400d3" stroke-width="0.9" stroke-linecap="round"/>
<polyline points="231.79,41.94 232.09,43.06 232.37,44.19 232.65,45.32 232.93,46.45 233.21,47.58 233.49,48.71 233.77,49.83 234.05,50.96 234.34,52.09 234.62,53.21 234.92,54.34 235.22,55.46 235.54,56.58 235.86,57.7 236.19,58.81 236.54,59.92 236.9,61.03 237.28,62.13 237.67,63.23 238.09,64.32 238.52,65.41 238.98,66.48 239.47,67.55 240,68.61" fill="none" stroke="#9400d3" stroke-width="0.9" stroke-linecap="round"/>
<polyline points="229.97,42.06 229.85,43.21 229.73,44.37 229.64,45.53 229.56,46.69 229.5,47.85 229.45,49.02 229.43,50.18 229.43,51.35 229.45,52.52 229.5,53.69 229.57,54.86 229.66,56.03 229.77,57.2 229.92,58.36 230.09,59.53 230.29,60.7 230.51,61.86 230.76,63.02 231.05,64.18 231.36,65.34 231.7,66.49 232.07,67.64 232.46,68.78 232.87,69.92" fill="none" stroke="#9400d3" stroke-width="0.9" stroke-linecap="round"/>
<polyline points="230.8,42.1 230.83,43.26 230.86,44.42 230.88,45.58 230.91,46.74 230.93,47.91 230.95,49.07 230.97,50.23 230.99,51.39 231.02,52.56 231.05,53.72 231.09,54.88 231.13,56.04 231.19,57.2 231.25,58.36 231.33,59.53 231.42,60.69 231.53,61.84 231.65,63 231.79,64.16 231.95,65.32 232.14,66.47 232.35,67.62 232.58,68.77 232.87,69.92" fill="none" stroke="#9400d3" stroke-width="0.9" stroke-linecap="round"/>
<polyline points="229,41.81 228.62,42.9 228.25,44.01 227.9,45.12 227.56,46.23 227.24,47.35 226.94,48.48 226.66,49.61 226.4,50.75 226.16,51.89 225.95,53.04 225.75,54.19 225.58,55.35 225.44,56.52 225.32,57.69 225.22,58.87 225.15,60.05 225.11,61.23 225.1,62.42 225.12,63.62 225.17,64.81 225.24,66.01 225.34,67.21 225.47,68.41 225.62,69.61" fill="none" stroke="#9400d3" stroke-width="0.9" stroke-linecap="round"/>
<polyline points="229.79,42.03 229.57,43.17 229.34,44.31 229.1,45.45 228.86,46.58 228.62,47.72 228.38,48.86 228.15,50 227.91,51.14 227.68,52.27 227.45,53.41 227.23,54.56 227.02,55.7 226.81,56.84 226.62,57.99 226.43,59.14 226.26,60.29 226.11,61.44 225.97,62.6 225.85,63.76 225.75,64.92 225.67,66.09 225.62,67.26 225.6,68.43 225.62,69.61" fill="none" stroke="#9400d3" stroke-width="0.9" stroke-linecap="round"/>
<polyline points="228.1,41.34 227.49,42.33 226.88,43.32 226.29,44.33 225.72,45.34 225.16,46.36 224.61,47.39 224.09,48.43 223.58,49.48 223.09,50.54 222.63,51.62 222.18,52.7 221.76,53.79 221.35,54.9 220.98,56.01 220.62,57.14 220.3,58.27 219.99,59.42 219.72,60.58 219.47,61.75 219.25,62.92 219.05,64.11 218.89,65.3 218.74,66.5 218.62,67.7" fill="none" stroke="#9400d3" stroke-width="0.9" stroke-linecap="round"/>
<polyline points="228.83,41.74 228.35,42.8 227.88,43.86 227.39,44.92 226.91,45.97 226.42,47.03 225.94,48.08 225.45,49.14 224.97,50.2 224.49,51.26 224.01,52.32 223.54,53.38 223.08,54.45 222.62,55.52 222.18,56.59 221.75,57.67 221.32,58.76 220.92,59.85 220.52,60.94 220.15,62.05 219.79,63.16 219.46,64.28 219.15,65.41 218.86,66.55 218.62,67.7" fill="none" stroke="#9400d3" stroke-width="0.9" stroke-linecap="round"/>
<polyline points="227.33,40.69 226.51,41.52 225.7,42.35 224.9,43.2 224.12,44.06 223.34,44.93 222.59,45.81 221.84,46.71 221.11,47.62 220.4,48.55 219.71,49.49 219.03,50.45 218.37,51.42 217.74,52.41 217.12,53.41 216.53,54.43 215.95,55.46 215.4,56.51 214.88,57.58 214.37,58.66 213.9,59.76 213.44,60.87 213.02,62 212.61,63.14 212.22,64.28" fill="none" stroke="#9400d3" stroke-width="0.9" stroke-linecap="round"/>
<polyline points="227.95,41.24 227.25,42.17 226.55,43.09 225.85,44.02 225.14,44.94 224.43,45.86 223.72,46.78 223.01,47.7 222.3,48.63 221.6,49.55 220.9,50.48 220.21,51.41 219.52,52.35 218.84,53.29 218.16,54.24 217.5,55.2 216.85,56.16 216.21,57.13 215.58,58.12 214.97,59.11 214.38,60.11 213.8,61.13 213.24,62.16 212.71,63.21 212.22,64.28" fill="none" stroke="#9400d3" stroke-width="0.9" stroke-linecap="round"/>
<polyline points="226.73,39.89 225.74,40.51 224.77,41.14 223.8,41.79 222.84,42.45 221.9,43.13 220.96,43.82 220.03,44.53 219.12,45.26 218.22,46.01 217.34,46.77 216.46,47.55 215.61,48.35 214.77,49.17 213.94,50.01 213.13,50.87 212.35,51.76 211.58,52.66 210.83,53.58 210.09,54.52 209.38,55.49 208.7,56.47 208.03,57.47 207.38,58.49 206.74,59.52" fill="none" stroke="#9400d3" stroke-width="0.9" stroke-linecap="round"/>
<polyline points="227.21,40.56 226.32,41.31 225.43,42.06 224.54,42.8 223.64,43.54 222.74,44.28 221.85,45.02 220.95,45.76 220.06,46.51 219.17,47.25 218.28,48 217.39,48.76 216.51,49.52 215.64,50.28 214.77,51.06 213.91,51.84 213.06,52.64 212.22,53.44 211.39,54.26 210.58,55.09 209.77,55.94 208.98,56.8 208.21,57.68 207.46,58.59 206.74,59.52" fill="none" stroke="#9400d3" stroke-width="0.9" stroke-linecap="round"/>
<polyline points="226.31,38.97 225.22,39.35 224.12,39.76 223.04,40.17 221.96,40.6 220.88,41.05 219.82,41.52 218.76,42.01 217.7,42.51 216.66,43.04 215.63,43.59 214.6,44.16 213.59,44.75 212.59,45.36 211.6,45.99 210.62,46.65 209.65,47.34 208.7,48.05 207.76,48.78 206.84,49.54 205.94,50.32 205.05,51.12 204.17,51.95 203.31,52.8 202.46,53.67" fill="none" stroke="#9400d3" stroke-width="0.9" stroke-linecap="round"/>
<polyline points="226.64,39.73 225.6,40.26 224.57,40.79 223.53,41.32 222.49,41.84 221.45,42.37 220.42,42.89 219.38,43.41 218.34,43.94 217.31,44.47 216.27,45 215.24,45.54 214.22,46.08 213.19,46.64 212.18,47.2 211.16,47.77 210.16,48.36 209.16,48.96 208.17,49.57 207.19,50.2 206.21,50.84 205.25,51.51 204.31,52.2 203.37,52.91 202.46,53.67" fill="none" stroke="#9400d3" stroke-width="0.9" stroke-linecap="round"/>
<polyline points="226.12,37.98 224.96,38.11 223.81,38.26 222.66,38.42 221.51,38.61 220.36,38.8 219.21,39.02 218.07,39.26 216.93,39.52 215.8,39.8 214.67,40.1 213.55,40.43 212.43,40.78 211.31,41.16 210.21,41.56 209.1,41.98 208.01,42.43 206.93,42.91 205.85,43.42 204.78,43.95 203.72,44.51 202.68,45.1 201.64,45.71 200.61,46.35 199.59,47" fill="none" stroke="#9400d3" stroke-width="0.9" stroke-linecap="round"/>
<polyline points="226.26,38.79 225.14,39.09 224.01,39.37 222.88,39.65 221.75,39.93 220.62,40.21 219.49,40.49 218.37,40.77 217.24,41.05 216.11,41.34 214.99,41.62 213.86,41.92 212.74,42.22 211.62,42.54 210.5,42.86 209.39,43.19 208.28,43.54 207.17,43.9 206.07,44.28 204.97,44.67 203.88,45.09 202.79,45.52 201.72,45.98 200.65,46.47 199.59,47" fill="none" stroke="#9400d3" stroke-width="0.9" stroke-linecap="round"/>
<polyline points="226.14,36.97 224.99,36.85 223.83,36.73 222.67,36.64 221.51,36.56 220.35,36.5 219.18,36.45 218.02,36.43 216.85,36.43 215.68,36.45 214.51,36.5 213.34,36.57 212.17,36.66 211,36.77 209.84,36.92 208.67,37.09 207.5,37.29 206.34,37.51 205.18,37.76 204.02,38.05 202.86,38.36 201.71,38.7 200.56,39.07 199.42,39.46 198.28,39.87" fill="none" stroke="#9400d3" stroke-width="0.9" stroke-linecap="round"/>
<polyline points="226.1,37.8 224.94,37.83 223.78,37.86 222.62,37.88 221.46,37.91 220.29,37.93 219.13,37.95 217.97,37.97 216.81,37.99 215.64,38.02 214.48,38.05 213.32,38.09 212.16,38.13 211,38.19 209.84,38.25 208.67,38.33 207.51,38.42 206.36,38.53 205.2,38.65 204.04,38.79 202.88,38.95 201.73,39.14 200.58,39.35 199.43,39.58 198.28,39.87" fill="none" stroke="#9400d3" stroke-width="0.9" stroke-linecap="round"/>
<polyline points="226.39,36 225.3,35.62 224.19,35.25 223.08,34.9 221.97,34.56 220.85,34.24 219.72,33.94 218.59,33.66 217.45,33.4 216.31,33.16 215.16,32.95 214.01,32.75 212.85,32.58 211.68,32.44 210.51,32.32 209.33,32.22 208.15,32.15 206.97,32.11 205.78,32.1 204.58,32.12 203.39,32.17 202.19,32.24 200.99,32.34 199.79,32.47 198.59,32.62" fill="none" stroke="#9400d3" stroke-width="0.9" stroke-linecap="round"/>
<polyline points="226.17,36.79 225.03,36.57 223.89,36.34 222.75,36.1 221.62,35.86 220.48,35.62 219.34,35.38 218.2,35.15 217.06,34.91 215.93,34.68 214.79,34.45 213.64,34.23 212.5,34.02 211.36,33.81 210.21,33.62 209.06,33.43 207.91,33.26 206.76,33.11 205.6,32.97 204.44,32.85 203.28,32.75 202.11,32.67 200.94,32.62 199.77,32.6 198.59,32.62" fill="none" stroke="#9400d3" stroke-width="0.9" stroke-linecap="round"/>
<polyline points="226.86,35.1 225.87,34.49 224.88,33.88 223.87,33.29 222.86,32.72 221.84,32.16 220.81,31.61 219.77,31.09 218.72,30.58 217.66,30.09 216.58,29.63 215.5,29.18 214.41,28.76 213.3,28.35 212.19,27.98 211.06,27.62 209.93,27.3 208.78,26.99 207.62,26.72 206.45,26.47 205.28,26.25 204.09,26.05 202.9,25.89 201.7,25.74 200.5,25.62" fill="none" stroke="#9400d3" stroke-width="0.9" stroke-linecap="round"/>
<polyline points="226.46,35.83 225.4,35.35 224.34,34.88 223.28,34.39 222.23,33.91 221.17,33.42 220.12,32.94 219.06,32.45 218,31.97 216.94,31.49 215.88,31.01 214.82,30.54 213.75,30.08 212.68,29.62 211.61,29.18 210.53,28.75 209.44,28.32 208.35,27.92 207.26,27.52 206.15,27.15 205.04,26.79 203.92,26.46 202.79,26.15 201.65,25.86 200.5,25.62" fill="none" stroke="#9400d3" stroke-width="0.9" stroke-linecap="round"/>
<polyline points="227.51,34.33 226.68,33.51 225.85,32.7 225,31.9 224.14,31.12 223.27,30.34 222.39,29.59 221.49,28.84 220.58,28.11 219.65,27.4 218.71,26.71 217.75,26.03 216.78,25.37 215.79,24.74 214.79,24.12 213.77,23.53 212.74,22.95 211.69,22.4 210.62,21.88 209.54,21.37 208.44,20.9 207.33,20.44 206.2,20.02 205.06,19.61 203.92,19.22" fill="none" stroke="#9400d3" stroke-width="0.9" stroke-linecap="round"/>
<polyline points="226.96,34.95 226.03,34.25 225.11,33.55 224.18,32.85 223.26,32.14 222.34,31.43 221.42,30.72 220.5,30.01 219.57,29.3 218.65,28.6 217.72,27.9 216.79,27.21 215.85,26.52 214.91,25.84 213.96,25.16 213,24.5 212.04,23.85 211.07,23.21 210.08,22.58 209.09,21.97 208.09,21.38 207.07,20.8 206.04,20.24 204.99,19.71 203.92,19.22" fill="none" stroke="#9400d3" stroke-width="0.9" stroke-linecap="round"/>
<polyline points="228.31,33.73 227.69,32.74 227.06,31.77 226.41,30.8 225.75,29.84 225.07,28.9 224.38,27.96 223.67,27.03 222.94,26.12 222.19,25.22 221.43,24.34 220.65,23.46 219.85,22.61 219.03,21.77 218.19,20.94 217.33,20.13 216.44,19.35 215.54,18.58 214.62,17.83 213.68,17.09 212.71,16.38 211.73,15.7 210.73,15.03 209.71,14.38 208.68,13.74" fill="none" stroke="#9400d3" stroke-width="0.9" stroke-linecap="round"/>
<polyline points="227.64,34.21 226.89,33.32 226.14,32.43 225.4,31.54 224.66,30.64 223.92,29.74 223.18,28.85 222.44,27.95 221.69,27.06 220.95,26.17 220.2,25.28 219.44,24.39 218.68,23.51 217.92,22.64 217.14,21.77 216.36,20.91 215.56,20.06 214.76,19.22 213.94,18.39 213.11,17.58 212.26,16.77 211.4,15.98 210.52,15.21 209.61,14.46 208.68,13.74" fill="none" stroke="#9400d3" stroke-width="0.9" stroke-linecap="round"/>
<polyline points="229.23,33.31 228.85,32.22 228.44,31.12 228.03,30.04 227.6,28.96 227.15,27.88 226.68,26.82 226.19,25.76 225.69,24.7 225.16,23.66 224.61,22.63 224.04,21.6 223.45,20.59 222.84,19.59 222.21,18.6 221.55,17.62 220.86,16.65 220.15,15.7 219.42,14.76 218.66,13.84 217.88,12.94 217.08,12.05 216.25,11.17 215.4,10.31 214.53,9.46" fill="none" stroke="#9400d3" stroke-width="0.9" stroke-linecap="round"/>
<polyline points="228.47,33.64 227.94,32.6 227.41,31.57 226.88,30.53 226.36,29.49 225.83,28.45 225.31,27.42 224.79,26.38 224.26,25.34 223.73,24.31 223.2,23.27 222.66,22.24 222.12,21.22 221.56,20.19 221,19.18 220.43,18.16 219.84,17.16 219.24,16.16 218.63,15.17 218,14.19 217.36,13.21 216.69,12.25 216,11.31 215.29,10.37 214.53,9.46" fill="none" stroke="#9400d3" stroke-width="0.9" stroke-linecap="round"/>
<polyline points="230.22,33.12 230.09,31.96 229.94,30.81 229.78,29.66 229.59,28.51 229.4,27.36 229.18,26.21 228.94,25.07 228.68,23.93 228.4,22.8 228.1,21.67 227.77,20.55 227.42,19.43 227.04,18.31 226.64,17.21 226.22,16.1 225.77,15.01 225.29,13.93 224.78,12.85 224.25,11.78 223.69,10.72 223.1,9.68 222.49,8.64 221.85,7.61 221.2,6.59" fill="none" stroke="#9400d3" stroke-width="0.9" stroke-linecap="round"/>
<polyline points="229.41,33.26 229.11,32.14 228.83,31.01 228.55,29.88 228.27,28.75 227.99,27.62 227.71,26.49 227.43,25.37 227.15,24.24 226.86,23.11 226.58,21.99 226.28,20.86 225.98,19.74 225.66,18.62 225.34,17.5 225.01,16.39 224.66,15.28 224.3,14.17 223.92,13.07 223.53,11.97 223.11,10.88 222.68,9.79 222.22,8.72 221.73,7.65 221.2,6.59" fill="none" stroke="#9400d3" stroke-width="0.9" stroke-linecap="round"/>
<polyline points="231.23,33.14 231.35,31.99 231.47,30.83 231.56,29.67 231.64,28.51 231.7,27.35 231.75,26.18 231.77,25.02 231.77,23.85 231.75,22.68 231.7,21.51 231.63,20.34 231.54,19.17 231.43,18 231.28,16.84 231.11,15.67 230.91,14.5 230.69,13.34 230.44,12.18 230.15,11.02 229.84,9.86 229.5,8.71 229.13,7.56 228.74,6.42 228.33,5.28" fill="none" stroke="#9400d3" stroke-width="0.9" stroke-linecap="round"/>
<polyline points="230.4,33.1 230.37,31.94 230.34,30.78 230.32,29.62 230.29,28.46 230.27,27.29 230.25,26.13 230.23,24.97 230.21,23.81 230.18,22.64 230.15,21.48 230.11,20.32 230.07,19.16 230.01,18 229.95,16.84 229.87,15.67 229.78,14.51 229.67,13.36 229.55,12.2 229.41,11.04 229.25,9.88 229.06,8.73 228.85,7.58 228.62,6.43 228.33,5.28" fill="none" stroke="#9400d3" stroke-width="0.9" stroke-linecap="round"/>
<polyline points="232.2,33.39 232.58,32.3 232.95,31.19 233.3,30.08 233.64,28.97 233.96,27.85 234.26,26.72 234.54,25.59 234.8,24.45 235.04,23.31 235.25,22.16 235.45,21.01 235.62,19.85 235.76,18.68 235.88,17.51 235.98,16.33 236.05,15.15 236.09,13.97 236.1,12.78 236.08,11.58 236.03,10.39 235.96,9.19 235.86,7.99 235.73,6.79 235.58,5.59" fill="none" stroke="#9400d3" stroke-width="0.9" stroke-linecap="round"/>
<polyline points="231.41,33.17 231.63,32.03 231.86,30.89 232.1,29.75 232.34,28.62 232.58,27.48 232.82,26.34 233.05,25.2 233.29,24.06 233.52,22.93 233.75,21.79 233.97,20.64 234.18,19.5 234.39,18.36 234.58,17.21 234.77,16.06 234.94,14.91 235.09,13.76 235.23,12.6 235.35,11.44 235.45,10.28 235.53,9.11 235.58,7.94 235.6,6.77 235.58,5.59" fill="none" stroke="#9400d3" stroke-width="0.9" stroke-linecap="round"/>
<polyline points="233.1,33.86 233.71,32.87 234.32,31.88 234.91,30.87 235.48,29.86 236.04,28.84 236.59,27.81 237.11,26.77 237.62,25.72 238.11,24.66 238.57,23.58 239.02,22.5 239.44,21.41 239.85,20.3 240.22,19.19 240.58,18.06 240.9,16.93 241.21,15.78 241.48,14.62 241.73,13.45 241.95,12.28 242.15,11.09 242.31,9.9 242.46,8.7 242.58,7.5" fill="none" stroke="#9400d3" stroke-width="0.9" stroke-linecap="round"/>
<polyline points="232.37,33.46 232.85,32.4 233.32,31.34 233.81,30.28 234.29,29.23 234.78,28.17 235.26,27.12 235.75,26.06 236.23,25 236.71,23.94 237.19,22.88 237.66,21.82 238.12,20.75 238.58,19.68 239.02,18.61 239.45,17.53 239.88,16.44 240.28,15.35 240.68,14.26 241.05,13.15 241.41,12.04 241.74,10.92 242.05,9.79 242.34,8.65 242.58,7.5" fill="none" stroke="#9400d3" stroke-width="0.9" stroke-linecap="round"/>
<polyline points="233.87,34.51 234.69,33.68 235.5,32.85 236.3,32 237.08,31.14 237.86,30.27 238.61,29.39 239.36,28.49 240.09,27.58 240.8,26.65 241.49,25.71 242.17,24.75 242.83,23.78 243.46,22.79 244.08,21.79 244.67,20.77 245.25,19.74 245.8,18.69 246.32,17.62 246.83,16.54 247.3,15.44 247.76,14.33 248.18,13.2 248.59,12.06 248.98,10.92" fill="none" stroke="#9400d3" stroke-width="0.9" stroke-linecap="round"/>
<polyline points="233.25,33.96 233.95,33.03 234.65,32.11 235.35,31.18 236.06,30.26 236.77,29.34 237.48,28.42 238.19,27.5 238.9,26.57 239.6,25.65 240.3,24.72 240.99,23.79 241.68,22.85 242.36,21.91 243.04,20.96 243.7,20 244.35,19.04 244.99,18.07 245.62,17.08 246.23,16.09 246.82,15.09 247.4,14.07 247.96,13.04 248.49,11.99 248.98,10.92" fill="none" stroke="#9400d3" stroke-width="0.9" stroke-linecap="round"/>
<polyline points="234.47,35.31 235.46,34.69 236.43,34.06 237.4,33.41 238.36,32.75 239.3,32.07 240.24,31.38 241.17,30.67 242.08,29.94 242.98,29.19 243.86,28.43 244.74,27.65 245.59,26.85 246.43,26.03 247.26,25.19 248.07,24.33 248.85,23.44 249.62,22.54 250.37,21.62 251.11,20.68 251.82,19.71 252.5,18.73 253.17,17.73 253.82,16.71 254.46,15.68" fill="none" stroke="#9400d3" stroke-width="0.9" stroke-linecap="round"/>
<polyline points="233.99,34.64 234.88,33.89 235.77,33.14 236.66,32.4 237.56,31.66 238.46,30.92 239.35,30.18 240.25,29.44 241.14,28.69 242.03,27.95 242.92,27.2 243.81,26.44 244.69,25.68 245.56,24.92 246.43,24.14 247.29,23.36 248.14,22.56 248.98,21.76 249.81,20.94 250.62,20.11 251.43,19.26 252.22,18.4 252.99,17.52 253.74,16.61 254.46,15.68" fill="none" stroke="#9400d3" stroke-width="0.9" stroke-linecap="round"/>
<polyline points="234.89,36.23 235.98,35.85 237.08,35.44 238.16,35.03 239.24,34.6 240.32,34.15 241.38,33.68 242.44,33.19 243.5,32.69 244.54,32.16 245.57,31.61 246.6,31.04 247.61,30.45 248.61,29.84 249.6,29.21 250.58,28.55 251.55,27.86 252.5,27.15 253.44,26.42 254.36,25.66 255.26,24.88 256.15,24.08 257.03,23.25 257.89,22.4 258.74,21.53" fill="none" stroke="#9400d3" stroke-width="0.9" stroke-linecap="round"/>
<polyline points="234.56,35.47 235.6,34.94 236.63,34.41 237.67,33.88 238.71,33.36 239.75,32.83 240.78,32.31 241.82,31.79 242.86,31.26 243.89,30.73 244.93,30.2 245.96,29.66 246.98,29.12 248.01,28.56 249.02,28 250.04,27.43 251.04,26.84 252.04,26.24 253.03,25.63 254.01,25 254.99,24.36 255.95,23.69 256.89,23 257.83,22.29 258.74,21.53" fill="none" stroke="#9400d3" stroke-width="0.9" stroke-linecap="round"/>
<polyline points="235.08,37.22 236.24,37.09 237.39,36.94 238.54,36.78 239.69,36.59 240.84,36.4 241.99,36.18 243.13,35.94 244.27,35.68 245.4,35.4 246.53,35.1 247.65,34.77 248.77,34.42 249.89,34.04 250.99,33.64 252.1,33.22 253.19,32.77 254.27,32.29 255.35,31.78 256.42,31.25 257.48,30.69 258.52,30.1 259.56,29.49 260.59,28.85 261.61,28.2" fill="none" stroke="#9400d3" stroke-width="0.9" stroke-linecap="round"/>
<polyline points="234.94,36.41 236.06,36.11 237.19,35.83 238.32,35.55 239.45,35.27 240.58,34.99 241.71,34.71 242.83,34.43 243.96,34.15 245.09,33.86 246.21,33.58 247.34,33.28 248.46,32.98 249.58,32.66 250.7,32.34 251.81,32.01 252.92,31.66 254.03,31.3 255.13,30.92 256.23,30.53 257.32,30.11 258.41,29.68 259.48,29.22 260.55,28.73 261.61,28.2" fill="none" stroke="#9400d3" stroke-width="0.9" stroke-linecap="round"/>
<circle cx="230.6" cy="37.6" r="5.6" fill="#9400d3"/>
<circle cx="353.6" cy="36.9" r="6.5" fill="#00f0f0"/>
<path d="M351.94,34.4 L351.18,33.16 L350.49,31.89 L349.84,30.58 L349.24,29.26 L348.67,27.91 L348.14,26.55 L347.63,25.18 L347.15,23.8 L346.68,22.42 L346.22,21.03 L345.76,19.65 L345.3,18.26 L344.83,16.89 L344.34,15.52 L343.82,14.16 L343.27,12.82 L342.68,11.5 L342.05,10.19 L341.37,8.91 L340.62,7.65L342.04,7.06 L342.7,8.36 L343.29,9.69 L343.84,11.03 L344.34,12.39 L344.81,13.76 L345.25,15.15 L345.66,16.54 L346.06,17.95 L346.44,19.35 L346.83,20.76 L347.22,22.17 L347.62,23.58 L348.04,24.98 L348.48,26.38 L348.96,27.76 L349.47,29.13 L350.02,30.48 L350.62,31.81 L351.28,33.1 L352,34.37" fill="none" stroke="#00f0f0" stroke-width="0.6" stroke-linejoin="round"/>
<path d="M352.04,34.34 L351.36,33.06 L350.74,31.74 L350.17,30.4 L349.66,29.03 L349.2,27.64 L348.77,26.24 L348.38,24.83 L348.01,23.41 L347.67,21.99 L347.33,20.56 L347.01,19.13 L346.68,17.71 L346.35,16.29 L346.01,14.87 L345.64,13.47 L345.24,12.07 L344.81,10.68 L344.34,9.31 L343.81,7.96 L343.23,6.63L344.69,6.16 L345.18,7.53 L345.62,8.92 L346,10.31 L346.35,11.72 L346.66,13.14 L346.94,14.57 L347.21,16.01 L347.46,17.45 L347.71,18.89 L347.96,20.33 L348.22,21.78 L348.49,23.22 L348.79,24.66 L349.12,26.09 L349.49,27.51 L349.9,28.91 L350.36,30.3 L350.88,31.67 L351.45,33 L352.1,34.3" fill="none" stroke="#00f0f0" stroke-width="0.6" stroke-linejoin="round"/>
<path d="M352.14,34.28 L351.53,32.96 L350.99,31.61 L350.52,30.23 L350.1,28.83 L349.74,27.41 L349.42,25.97 L349.14,24.53 L348.9,23.08 L348.68,21.62 L348.48,20.17 L348.29,18.71 L348.1,17.25 L347.92,15.8 L347.72,14.35 L347.51,12.91 L347.27,11.48 L347,10.05 L346.68,8.63 L346.33,7.23 L345.92,5.84L347.41,5.5 L347.73,6.92 L348,8.34 L348.21,9.78 L348.4,11.22 L348.55,12.67 L348.67,14.13 L348.79,15.59 L348.89,17.05 L349,18.52 L349.11,19.99 L349.24,21.45 L349.39,22.92 L349.57,24.38 L349.78,25.84 L350.04,27.29 L350.35,28.72 L350.71,30.14 L351.14,31.54 L351.63,32.91 L352.2,34.25" fill="none" stroke="#00f0f0" stroke-width="0.6" stroke-linejoin="round"/>
<path d="M352.25,34.22 L351.71,32.87 L351.26,31.49 L350.87,30.08 L350.55,28.65 L350.29,27.2 L350.08,25.74 L349.92,24.27 L349.8,22.8 L349.71,21.33 L349.64,19.85 L349.59,18.38 L349.55,16.91 L349.51,15.44 L349.47,13.97 L349.41,12.51 L349.33,11.05 L349.23,9.6 L349.08,8.15 L348.9,6.71 L348.66,5.28L350.18,5.08 L350.32,6.53 L350.41,7.98 L350.46,9.43 L350.48,10.89 L350.47,12.35 L350.44,13.82 L350.4,15.29 L350.35,16.76 L350.32,18.24 L350.29,19.72 L350.28,21.2 L350.3,22.68 L350.36,24.16 L350.45,25.63 L350.6,27.1 L350.8,28.56 L351.07,30 L351.4,31.42 L351.81,32.82 L352.31,34.19" fill="none" stroke="#00f0f0" stroke-width="0.6" stroke-linejoin="round"/>
<path d="M352.35,34.17 L351.9,32.79 L351.52,31.38 L351.23,29.94 L351.01,28.49 L350.85,27.02 L350.76,25.55 L350.72,24.07 L350.72,22.59 L350.76,21.1 L350.83,19.62 L350.92,18.14 L351.02,16.66 L351.13,15.19 L351.24,13.72 L351.34,12.25 L351.43,10.79 L351.49,9.33 L351.51,7.87 L351.5,6.42 L351.44,4.97L352.98,4.91 L352.94,6.36 L352.85,7.81 L352.73,9.26 L352.58,10.72 L352.41,12.18 L352.22,13.64 L352.03,15.11 L351.83,16.58 L351.65,18.05 L351.48,19.53 L351.34,21.01 L351.23,22.49 L351.16,23.98 L351.14,25.46 L351.17,26.94 L351.26,28.42 L351.43,29.88 L351.67,31.32 L352,32.75 L352.41,34.14" fill="none" stroke="#00f0f0" stroke-width="0.6" stroke-linejoin="round"/>
<path d="M352.46,34.12 L352.08,32.72 L351.8,31.28 L351.6,29.83 L351.48,28.36 L351.43,26.88 L351.45,25.4 L351.52,23.92 L351.65,22.43 L351.82,20.95 L352.02,19.47 L352.25,18 L352.5,16.53 L352.76,15.07 L353.03,13.61 L353.29,12.15 L353.53,10.7 L353.76,9.25 L353.96,7.8 L354.12,6.35 L354.24,4.91L355.77,4.97 L355.56,6.41 L355.3,7.85 L355.01,9.29 L354.69,10.72 L354.36,12.16 L354.01,13.6 L353.66,15.05 L353.32,16.5 L352.99,17.96 L352.68,19.42 L352.41,20.89 L352.17,22.37 L351.97,23.85 L351.83,25.34 L351.75,26.82 L351.73,28.3 L351.8,29.77 L351.95,31.24 L352.19,32.68 L352.52,34.1" fill="none" stroke="#00f0f0" stroke-width="0.6" stroke-linejoin="round"/>
<path d="M352.57,34.08 L352.27,32.65 L352.07,31.2 L351.97,29.73 L351.95,28.26 L352.01,26.77 L352.14,25.29 L352.34,23.81 L352.59,22.33 L352.89,20.87 L353.23,19.4 L353.6,17.95 L353.99,16.5 L354.4,15.06 L354.82,13.63 L355.23,12.2 L355.64,10.78 L356.03,9.36 L356.4,7.94 L356.74,6.51 L357.03,5.08L358.56,5.29 L358.16,6.69 L357.73,8.09 L357.27,9.5 L356.79,10.9 L356.3,12.3 L355.8,13.7 L355.3,15.12 L354.81,16.54 L354.34,17.96 L353.89,19.4 L353.48,20.85 L353.11,22.31 L352.79,23.78 L352.52,25.25 L352.33,26.73 L352.21,28.21 L352.17,29.69 L352.23,31.16 L352.38,32.62 L352.63,34.06" fill="none" stroke="#00f0f0" stroke-width="0.6" stroke-linejoin="round"/>
<path d="M352.68,34.04 L352.47,32.6 L352.35,31.13 L352.34,29.66 L352.42,28.18 L352.59,26.7 L352.84,25.22 L353.16,23.76 L353.53,22.3 L353.96,20.85 L354.44,19.42 L354.94,18 L355.48,16.59 L356.04,15.19 L356.6,13.79 L357.17,12.41 L357.74,11.03 L358.29,9.65 L358.82,8.27 L359.33,6.89 L359.8,5.51L361.3,5.84 L360.73,7.19 L360.14,8.54 L359.51,9.89 L358.87,11.24 L358.23,12.59 L357.57,13.94 L356.93,15.3 L356.29,16.68 L355.68,18.06 L355.1,19.46 L354.55,20.88 L354.05,22.31 L353.61,23.75 L353.23,25.21 L352.92,26.67 L352.69,28.15 L352.55,29.63 L352.51,31.1 L352.58,32.57 L352.75,34.02" fill="none" stroke="#00f0f0" stroke-width="0.6" stroke-linejoin="round"/>
<path d="M354.19,33.96 L354.53,32.55 L354.94,31.16 L355.41,29.78 L355.92,28.41 L356.47,27.06 L357.06,25.72 L357.67,24.4 L358.3,23.08 L358.95,21.77 L359.6,20.46 L360.26,19.16 L360.91,17.85 L361.55,16.55 L362.17,15.23 L362.76,13.91 L363.32,12.57 L363.84,11.22 L364.32,9.85 L364.74,8.46 L365.11,7.04L366.53,7.63 L366.07,9.01 L365.56,10.37 L364.99,11.71 L364.39,13.02 L363.74,14.32 L363.07,15.61 L362.38,16.89 L361.67,18.16 L360.95,19.43 L360.22,20.7 L359.5,21.97 L358.79,23.25 L358.09,24.54 L357.42,25.84 L356.78,27.16 L356.17,28.48 L355.61,29.83 L355.1,31.19 L354.64,32.57 L354.26,33.97" fill="none" stroke="#00f0f0" stroke-width="0.6" stroke-linejoin="round"/>
<path d="M354.31,33.99 L354.73,32.6 L355.22,31.23 L355.78,29.88 L356.38,28.55 L357.03,27.24 L357.72,25.95 L358.44,24.67 L359.19,23.41 L359.95,22.16 L360.72,20.92 L361.5,19.68 L362.28,18.44 L363.05,17.2 L363.81,15.95 L364.54,14.7 L365.25,13.43 L365.92,12.15 L366.55,10.84 L367.14,9.51 L367.67,8.16L369.04,8.87 L368.41,10.18 L367.74,11.47 L367.03,12.73 L366.27,13.97 L365.49,15.19 L364.68,16.4 L363.85,17.6 L363.01,18.8 L362.17,20 L361.32,21.2 L360.49,22.4 L359.66,23.62 L358.86,24.85 L358.08,26.09 L357.34,27.35 L356.63,28.64 L355.98,29.94 L355.38,31.27 L354.84,32.63 L354.37,34" fill="none" stroke="#00f0f0" stroke-width="0.6" stroke-linejoin="round"/>
<path d="M354.42,34.02 L354.92,32.65 L355.5,31.31 L356.14,30 L356.84,28.72 L357.58,27.46 L358.37,26.22 L359.19,25 L360.05,23.8 L360.92,22.62 L361.81,21.44 L362.71,20.28 L363.6,19.12 L364.5,17.96 L365.38,16.8 L366.25,15.63 L367.1,14.44 L367.92,13.24 L368.7,12.02 L369.44,10.78 L370.13,9.5L371.43,10.33 L370.65,11.55 L369.83,12.75 L368.97,13.91 L368.08,15.06 L367.16,16.19 L366.22,17.31 L365.27,18.43 L364.31,19.54 L363.35,20.65 L362.39,21.77 L361.44,22.89 L360.51,24.04 L359.6,25.2 L358.72,26.38 L357.88,27.59 L357.08,28.82 L356.34,30.08 L355.65,31.37 L355.03,32.69 L354.49,34.03" fill="none" stroke="#00f0f0" stroke-width="0.6" stroke-linejoin="round"/>
<path d="M354.54,34.05 L355.11,32.72 L355.77,31.41 L356.5,30.14 L357.28,28.91 L358.12,27.7 L359,26.52 L359.93,25.37 L360.88,24.24 L361.86,23.14 L362.85,22.05 L363.86,20.97 L364.87,19.9 L365.89,18.83 L366.89,17.76 L367.89,16.69 L368.86,15.6 L369.81,14.5 L370.73,13.38 L371.62,12.23 L372.46,11.05L373.68,11.99 L372.76,13.1 L371.8,14.19 L370.81,15.26 L369.79,16.3 L368.75,17.32 L367.69,18.34 L366.62,19.35 L365.55,20.36 L364.47,21.38 L363.41,22.41 L362.36,23.45 L361.32,24.51 L360.32,25.6 L359.34,26.71 L358.41,27.85 L357.52,29.02 L356.69,30.23 L355.92,31.47 L355.22,32.75 L354.6,34.07" fill="none" stroke="#00f0f0" stroke-width="0.6" stroke-linejoin="round"/>
<path d="M354.65,34.09 L355.3,32.79 L356.04,31.53 L356.84,30.3 L357.71,29.12 L358.64,27.98 L359.62,26.87 L360.63,25.79 L361.68,24.74 L362.76,23.72 L363.86,22.72 L364.97,21.74 L366.09,20.77 L367.21,19.8 L368.32,18.84 L369.43,17.88 L370.52,16.9 L371.6,15.91 L372.65,14.9 L373.67,13.86 L374.65,12.8L375.78,13.84 L374.73,14.83 L373.64,15.8 L372.53,16.74 L371.39,17.67 L370.24,18.58 L369.07,19.48 L367.9,20.38 L366.72,21.28 L365.55,22.19 L364.39,23.12 L363.24,24.07 L362.11,25.04 L361.01,26.04 L359.94,27.07 L358.92,28.14 L357.95,29.25 L357.03,30.4 L356.18,31.59 L355.4,32.83 L354.71,34.11" fill="none" stroke="#00f0f0" stroke-width="0.6" stroke-linejoin="round"/>
<path d="M354.76,34.13 L355.49,32.87 L356.3,31.65 L357.18,30.48 L358.14,29.36 L359.15,28.28 L360.21,27.25 L361.31,26.25 L362.45,25.29 L363.62,24.36 L364.81,23.46 L366.01,22.58 L367.23,21.72 L368.45,20.87 L369.67,20.02 L370.88,19.18 L372.08,18.33 L373.26,17.46 L374.43,16.58 L375.57,15.67 L376.68,14.73L377.71,15.86 L376.54,16.73 L375.34,17.56 L374.12,18.37 L372.88,19.16 L371.63,19.94 L370.36,20.72 L369.09,21.49 L367.83,22.28 L366.56,23.08 L365.31,23.9 L364.07,24.74 L362.86,25.61 L361.67,26.52 L360.52,27.47 L359.42,28.46 L358.36,29.5 L357.36,30.59 L356.44,31.73 L355.59,32.92 L354.82,34.16" fill="none" stroke="#00f0f0" stroke-width="0.6" stroke-linejoin="round"/>
<path d="M354.87,34.18 L355.67,32.96 L356.55,31.79 L357.51,30.68 L358.54,29.62 L359.63,28.61 L360.78,27.66 L361.96,26.75 L363.18,25.89 L364.44,25.06 L365.71,24.27 L367,23.5 L368.3,22.76 L369.61,22.03 L370.91,21.31 L372.22,20.59 L373.51,19.87 L374.8,19.14 L376.06,18.4 L377.31,17.63 L378.52,16.83L379.46,18.05 L378.19,18.77 L376.89,19.45 L375.58,20.12 L374.25,20.77 L372.9,21.41 L371.56,22.05 L370.21,22.7 L368.86,23.36 L367.51,24.03 L366.18,24.73 L364.86,25.47 L363.57,26.23 L362.31,27.04 L361.08,27.9 L359.89,28.81 L358.76,29.77 L357.69,30.79 L356.69,31.87 L355.76,33.01 L354.92,34.21" fill="none" stroke="#00f0f0" stroke-width="0.6" stroke-linejoin="round"/>
<path d="M354.97,34.23 L355.84,33.06 L356.8,31.94 L357.83,30.89 L358.94,29.9 L360.1,28.98 L361.32,28.11 L362.58,27.29 L363.88,26.53 L365.2,25.81 L366.55,25.13 L367.92,24.49 L369.29,23.87 L370.68,23.27 L372.06,22.68 L373.44,22.11 L374.82,21.53 L376.18,20.95 L377.54,20.35 L378.87,19.73 L380.18,19.09L381.01,20.38 L379.65,20.94 L378.27,21.47 L376.88,21.98 L375.48,22.48 L374.06,22.98 L372.64,23.48 L371.22,23.98 L369.8,24.51 L368.39,25.05 L366.99,25.63 L365.6,26.24 L364.24,26.9 L362.9,27.61 L361.6,28.37 L360.35,29.19 L359.14,30.07 L358,31.01 L356.93,32.03 L355.94,33.11 L355.03,34.26" fill="none" stroke="#00f0f0" stroke-width="0.6" stroke-linejoin="round"/>
<path d="M356.1,35.24 L357.34,34.48 L358.61,33.79 L359.92,33.14 L361.24,32.54 L362.59,31.97 L363.95,31.44 L365.32,30.93 L366.7,30.45 L368.08,29.98 L369.47,29.52 L370.85,29.06 L372.24,28.6 L373.61,28.13 L374.98,27.64 L376.34,27.12 L377.68,26.57 L379,25.98 L380.31,25.35 L381.59,24.67 L382.85,23.92L383.44,25.34 L382.14,26 L380.81,26.59 L379.47,27.14 L378.11,27.64 L376.74,28.11 L375.35,28.55 L373.96,28.96 L372.55,29.36 L371.15,29.74 L369.74,30.13 L368.33,30.52 L366.92,30.92 L365.52,31.34 L364.12,31.78 L362.74,32.26 L361.37,32.77 L360.02,33.32 L358.69,33.92 L357.4,34.58 L356.13,35.3" fill="none" stroke="#00f0f0" stroke-width="0.6" stroke-linejoin="round"/>
<path d="M356.16,35.34 L357.44,34.66 L358.76,34.04 L360.1,33.47 L361.47,32.96 L362.86,32.5 L364.26,32.07 L365.67,31.68 L367.09,31.31 L368.51,30.97 L369.94,30.63 L371.37,30.31 L372.79,29.98 L374.21,29.65 L375.63,29.31 L377.03,28.94 L378.43,28.54 L379.82,28.11 L381.19,27.64 L382.54,27.11 L383.87,26.53L384.34,27.99 L382.97,28.48 L381.58,28.92 L380.19,29.3 L378.78,29.65 L377.36,29.96 L375.93,30.24 L374.49,30.51 L373.05,30.76 L371.61,31.01 L370.17,31.26 L368.72,31.52 L367.28,31.79 L365.84,32.09 L364.41,32.42 L362.99,32.79 L361.59,33.2 L360.2,33.66 L358.83,34.18 L357.5,34.75 L356.2,35.4" fill="none" stroke="#00f0f0" stroke-width="0.6" stroke-linejoin="round"/>
<path d="M356.22,35.44 L357.54,34.83 L358.89,34.29 L360.27,33.82 L361.67,33.4 L363.09,33.04 L364.53,32.72 L365.97,32.44 L367.42,32.2 L368.88,31.98 L370.33,31.78 L371.79,31.59 L373.25,31.4 L374.7,31.22 L376.15,31.02 L377.59,30.81 L379.02,30.57 L380.45,30.3 L381.87,29.98 L383.27,29.63 L384.66,29.22L385,30.71 L383.58,31.03 L382.16,31.3 L380.72,31.51 L379.28,31.7 L377.83,31.85 L376.37,31.97 L374.91,32.09 L373.45,32.19 L371.98,32.3 L370.51,32.41 L369.05,32.54 L367.58,32.69 L366.12,32.87 L364.66,33.08 L363.21,33.34 L361.78,33.65 L360.36,34.01 L358.96,34.44 L357.59,34.93 L356.25,35.5" fill="none" stroke="#00f0f0" stroke-width="0.6" stroke-linejoin="round"/>
<path d="M356.28,35.55 L357.63,35.01 L359.01,34.56 L360.42,34.17 L361.85,33.85 L363.3,33.59 L364.76,33.38 L366.23,33.22 L367.7,33.1 L369.17,33.01 L370.65,32.94 L372.12,32.89 L373.59,32.85 L375.06,32.81 L376.53,32.77 L377.99,32.71 L379.45,32.63 L380.9,32.53 L382.35,32.38 L383.79,32.2 L385.22,31.96L385.42,33.48 L383.97,33.62 L382.52,33.71 L381.07,33.76 L379.61,33.78 L378.15,33.77 L376.68,33.74 L375.21,33.7 L373.74,33.65 L372.26,33.62 L370.78,33.59 L369.3,33.58 L367.82,33.6 L366.34,33.66 L364.87,33.75 L363.4,33.9 L361.94,34.1 L360.5,34.37 L359.08,34.7 L357.68,35.11 L356.31,35.61" fill="none" stroke="#00f0f0" stroke-width="0.6" stroke-linejoin="round"/>
<path d="M356.33,35.65 L357.71,35.2 L359.12,34.82 L360.56,34.53 L362.01,34.31 L363.48,34.15 L364.95,34.06 L366.43,34.02 L367.91,34.02 L369.4,34.06 L370.88,34.13 L372.36,34.22 L373.84,34.32 L375.31,34.43 L376.78,34.54 L378.25,34.64 L379.71,34.73 L381.17,34.79 L382.63,34.81 L384.08,34.8 L385.53,34.74L385.59,36.28 L384.14,36.24 L382.69,36.15 L381.24,36.03 L379.78,35.88 L378.32,35.71 L376.86,35.52 L375.39,35.33 L373.92,35.13 L372.45,34.95 L370.97,34.78 L369.49,34.64 L368.01,34.53 L366.52,34.46 L365.04,34.44 L363.56,34.47 L362.08,34.56 L360.62,34.73 L359.18,34.97 L357.75,35.3 L356.36,35.71" fill="none" stroke="#00f0f0" stroke-width="0.6" stroke-linejoin="round"/>
<path d="M356.38,35.76 L357.78,35.38 L359.22,35.1 L360.67,34.9 L362.14,34.78 L363.62,34.73 L365.1,34.75 L366.58,34.82 L368.07,34.95 L369.55,35.12 L371.03,35.32 L372.5,35.55 L373.97,35.8 L375.43,36.06 L376.89,36.33 L378.35,36.59 L379.8,36.83 L381.25,37.06 L382.7,37.26 L384.15,37.42 L385.59,37.54L385.53,39.07 L384.09,38.86 L382.65,38.6 L381.21,38.31 L379.78,37.99 L378.34,37.66 L376.9,37.31 L375.45,36.96 L374,36.62 L372.54,36.29 L371.08,35.98 L369.61,35.71 L368.13,35.47 L366.65,35.27 L365.16,35.13 L363.68,35.05 L362.2,35.03 L360.73,35.1 L359.26,35.25 L357.82,35.49 L356.4,35.82" fill="none" stroke="#00f0f0" stroke-width="0.6" stroke-linejoin="round"/>
<path d="M356.42,35.87 L357.85,35.57 L359.3,35.37 L360.77,35.27 L362.24,35.25 L363.73,35.31 L365.21,35.44 L366.69,35.64 L368.17,35.89 L369.63,36.19 L371.1,36.53 L372.55,36.9 L374,37.29 L375.44,37.7 L376.87,38.12 L378.3,38.53 L379.72,38.94 L381.14,39.33 L382.56,39.7 L383.99,40.04 L385.42,40.33L385.21,41.86 L383.81,41.46 L382.41,41.03 L381,40.57 L379.6,40.09 L378.2,39.6 L376.8,39.1 L375.38,38.6 L373.96,38.11 L372.54,37.64 L371.1,37.19 L369.65,36.78 L368.19,36.41 L366.72,36.09 L365.25,35.82 L363.77,35.63 L362.29,35.51 L360.81,35.47 L359.34,35.53 L357.88,35.68 L356.44,35.93" fill="none" stroke="#00f0f0" stroke-width="0.6" stroke-linejoin="round"/>
<path d="M356.46,35.98 L357.9,35.77 L359.37,35.65 L360.84,35.64 L362.32,35.72 L363.8,35.89 L365.28,36.14 L366.74,36.46 L368.2,36.83 L369.65,37.26 L371.08,37.74 L372.5,38.24 L373.91,38.78 L375.31,39.34 L376.71,39.9 L378.09,40.47 L379.47,41.04 L380.85,41.59 L382.23,42.12 L383.61,42.63 L384.99,43.1L384.66,44.6 L383.31,44.03 L381.96,43.44 L380.61,42.81 L379.26,42.17 L377.91,41.53 L376.56,40.87 L375.2,40.23 L373.82,39.59 L372.44,38.98 L371.04,38.4 L369.62,37.85 L368.19,37.35 L366.75,36.91 L365.29,36.53 L363.83,36.22 L362.35,35.99 L360.87,35.85 L359.4,35.81 L357.93,35.88 L356.48,36.05" fill="none" stroke="#00f0f0" stroke-width="0.6" stroke-linejoin="round"/>
<path d="M356.54,37.49 L357.95,37.83 L359.34,38.24 L360.72,38.71 L362.09,39.22 L363.44,39.77 L364.78,40.36 L366.1,40.97 L367.42,41.6 L368.73,42.25 L370.04,42.9 L371.34,43.56 L372.65,44.21 L373.95,44.85 L375.27,45.47 L376.59,46.06 L377.93,46.62 L379.28,47.14 L380.65,47.62 L382.04,48.04 L383.46,48.41L382.87,49.83 L381.49,49.37 L380.13,48.86 L378.79,48.29 L377.48,47.69 L376.18,47.04 L374.89,46.37 L373.61,45.68 L372.34,44.97 L371.07,44.25 L369.8,43.52 L368.53,42.8 L367.25,42.09 L365.96,41.39 L364.66,40.72 L363.34,40.08 L362.02,39.47 L360.67,38.91 L359.31,38.4 L357.93,37.94 L356.53,37.56" fill="none" stroke="#00f0f0" stroke-width="0.6" stroke-linejoin="round"/>
<path d="M356.51,37.61 L357.9,38.03 L359.27,38.52 L360.62,39.08 L361.95,39.68 L363.26,40.33 L364.55,41.02 L365.83,41.74 L367.09,42.49 L368.34,43.25 L369.58,44.02 L370.82,44.8 L372.06,45.58 L373.3,46.35 L374.55,47.11 L375.8,47.84 L377.07,48.55 L378.35,49.22 L379.66,49.85 L380.99,50.44 L382.34,50.97L381.63,52.34 L380.32,51.71 L379.03,51.04 L377.77,50.33 L376.53,49.57 L375.31,48.79 L374.1,47.98 L372.9,47.15 L371.7,46.31 L370.5,45.47 L369.3,44.62 L368.1,43.79 L366.88,42.96 L365.65,42.16 L364.41,41.38 L363.15,40.64 L361.86,39.93 L360.56,39.28 L359.23,38.68 L357.87,38.14 L356.5,37.67" fill="none" stroke="#00f0f0" stroke-width="0.6" stroke-linejoin="round"/>
<path d="M356.48,37.72 L357.85,38.22 L359.19,38.8 L360.5,39.44 L361.78,40.14 L363.04,40.88 L364.28,41.67 L365.5,42.49 L366.7,43.35 L367.88,44.22 L369.06,45.11 L370.22,46.01 L371.38,46.9 L372.54,47.8 L373.7,48.68 L374.87,49.55 L376.06,50.4 L377.26,51.22 L378.48,52 L379.72,52.74 L381,53.43L380.17,54.73 L378.95,53.95 L377.75,53.13 L376.59,52.27 L375.44,51.38 L374.31,50.46 L373.19,49.52 L372.07,48.57 L370.96,47.61 L369.85,46.65 L368.73,45.69 L367.61,44.74 L366.46,43.81 L365.3,42.9 L364.12,42.02 L362.91,41.18 L361.68,40.38 L360.42,39.64 L359.13,38.95 L357.81,38.33 L356.47,37.79" fill="none" stroke="#00f0f0" stroke-width="0.6" stroke-linejoin="round"/>
<path d="M356.45,37.84 L357.78,38.41 L359.09,39.07 L360.36,39.8 L361.59,40.58 L362.8,41.42 L363.98,42.3 L365.13,43.23 L366.26,44.18 L367.36,45.16 L368.45,46.15 L369.53,47.16 L370.6,48.17 L371.67,49.19 L372.74,50.19 L373.81,51.19 L374.9,52.16 L376,53.11 L377.12,54.03 L378.27,54.92 L379.45,55.76L378.51,56.98 L377.4,56.06 L376.31,55.1 L375.24,54.11 L374.2,53.09 L373.18,52.05 L372.16,50.99 L371.15,49.92 L370.14,48.85 L369.12,47.77 L368.09,46.71 L367.05,45.66 L365.99,44.62 L364.9,43.62 L363.79,42.64 L362.65,41.71 L361.48,40.82 L360.27,39.99 L359.03,39.22 L357.75,38.52 L356.43,37.9" fill="none" stroke="#00f0f0" stroke-width="0.6" stroke-linejoin="round"/>
<path d="M356.41,37.95 L357.71,38.6 L358.97,39.34 L360.2,40.14 L361.38,41.01 L362.52,41.94 L363.63,42.92 L364.71,43.93 L365.76,44.98 L366.78,46.06 L367.78,47.16 L368.76,48.27 L369.73,49.39 L370.7,50.51 L371.66,51.62 L372.62,52.73 L373.6,53.82 L374.59,54.9 L375.6,55.95 L376.64,56.97 L377.7,57.95L376.66,59.08 L375.67,58.03 L374.7,56.94 L373.76,55.83 L372.83,54.69 L371.92,53.54 L371.02,52.37 L370.12,51.2 L369.22,50.02 L368.31,48.85 L367.38,47.69 L366.43,46.54 L365.46,45.41 L364.46,44.31 L363.43,43.24 L362.36,42.22 L361.25,41.25 L360.1,40.33 L358.91,39.48 L357.67,38.7 L356.39,38.01" fill="none" stroke="#00f0f0" stroke-width="0.6" stroke-linejoin="round"/>
<path d="M356.37,38.06 L357.63,38.79 L358.85,39.6 L360.02,40.48 L361.14,41.44 L362.22,42.45 L363.25,43.51 L364.25,44.61 L365.21,45.75 L366.14,46.92 L367.04,48.11 L367.92,49.31 L368.78,50.53 L369.63,51.75 L370.48,52.97 L371.32,54.18 L372.17,55.38 L373.04,56.56 L373.92,57.73 L374.83,58.87 L375.77,59.98L374.64,61.01 L373.77,59.84 L372.94,58.64 L372.13,57.42 L371.34,56.18 L370.56,54.93 L369.78,53.66 L369.01,52.39 L368.22,51.13 L367.42,49.86 L366.6,48.61 L365.76,47.37 L364.89,46.16 L363.98,44.97 L363.03,43.82 L362.04,42.72 L361,41.66 L359.91,40.66 L358.77,39.74 L357.58,38.89 L356.34,38.12" fill="none" stroke="#00f0f0" stroke-width="0.6" stroke-linejoin="round"/>
<path d="M356.32,38.17 L357.54,38.97 L358.71,39.85 L359.82,40.81 L360.88,41.84 L361.89,42.93 L362.84,44.08 L363.75,45.26 L364.61,46.48 L365.44,47.74 L366.23,49.01 L367,50.3 L367.74,51.6 L368.47,52.91 L369.19,54.21 L369.91,55.52 L370.63,56.81 L371.36,58.1 L372.1,59.36 L372.87,60.61 L373.67,61.82L372.45,62.76 L371.73,61.49 L371.05,60.19 L370.38,58.88 L369.73,57.55 L369.09,56.2 L368.45,54.86 L367.8,53.51 L367.14,52.16 L366.47,50.81 L365.77,49.48 L365.03,48.16 L364.27,46.87 L363.46,45.61 L362.6,44.38 L361.69,43.19 L360.73,42.06 L359.71,40.99 L358.63,39.99 L357.49,39.06 L356.29,38.22" fill="none" stroke="#00f0f0" stroke-width="0.6" stroke-linejoin="round"/>
<path d="M356.27,38.27 L357.44,39.14 L358.56,40.1 L359.61,41.13 L360.6,42.24 L361.52,43.4 L362.39,44.62 L363.21,45.88 L363.97,47.18 L364.69,48.5 L365.37,49.85 L366.01,51.22 L366.63,52.59 L367.23,53.98 L367.82,55.36 L368.39,56.74 L368.97,58.12 L369.55,59.48 L370.15,60.84 L370.77,62.17 L371.41,63.48L370.12,64.31 L369.56,62.95 L369.03,61.57 L368.52,60.18 L368.02,58.78 L367.52,57.36 L367.02,55.94 L366.52,54.52 L365.99,53.1 L365.45,51.69 L364.87,50.29 L364.26,48.9 L363.6,47.54 L362.89,46.2 L362.13,44.9 L361.31,43.65 L360.43,42.44 L359.49,41.3 L358.47,40.23 L357.39,39.24 L356.24,38.33" fill="none" stroke="#00f0f0" stroke-width="0.6" stroke-linejoin="round"/>
<path d="M355.26,39.4 L356.02,40.64 L356.71,41.91 L357.36,43.22 L357.96,44.54 L358.53,45.89 L359.06,47.25 L359.57,48.62 L360.05,50 L360.52,51.38 L360.98,52.77 L361.44,54.15 L361.9,55.54 L362.37,56.91 L362.86,58.28 L363.38,59.64 L363.93,60.98 L364.52,62.3 L365.15,63.61 L365.83,64.89 L366.58,66.15L365.16,66.74 L364.5,65.44 L363.91,64.11 L363.36,62.77 L362.86,61.41 L362.39,60.04 L361.95,58.65 L361.54,57.26 L361.14,55.85 L360.76,54.45 L360.37,53.04 L359.98,51.63 L359.58,50.22 L359.16,48.82 L358.72,47.42 L358.24,46.04 L357.73,44.67 L357.18,43.32 L356.58,41.99 L355.92,40.7 L355.2,39.43" fill="none" stroke="#00f0f0" stroke-width="0.6" stroke-linejoin="round"/>
<path d="M355.16,39.46 L355.84,40.74 L356.46,42.06 L357.03,43.4 L357.54,44.77 L358,46.16 L358.43,47.56 L358.82,48.97 L359.19,50.39 L359.53,51.81 L359.87,53.24 L360.19,54.67 L360.52,56.09 L360.85,57.51 L361.19,58.93 L361.56,60.33 L361.96,61.73 L362.39,63.12 L362.86,64.49 L363.39,65.84 L363.97,67.17L362.51,67.64 L362.02,66.27 L361.58,64.88 L361.2,63.49 L360.85,62.08 L360.54,60.66 L360.26,59.23 L359.99,57.79 L359.74,56.35 L359.49,54.91 L359.24,53.47 L358.98,52.02 L358.71,50.58 L358.41,49.14 L358.08,47.71 L357.71,46.29 L357.3,44.89 L356.84,43.5 L356.32,42.13 L355.75,40.8 L355.1,39.5" fill="none" stroke="#00f0f0" stroke-width="0.6" stroke-linejoin="round"/>
<path d="M355.06,39.52 L355.67,40.84 L356.21,42.19 L356.68,43.57 L357.1,44.97 L357.46,46.39 L357.78,47.83 L358.06,49.27 L358.3,50.72 L358.52,52.18 L358.72,53.63 L358.91,55.09 L359.1,56.55 L359.28,58 L359.48,59.45 L359.69,60.89 L359.93,62.32 L360.2,63.75 L360.52,65.17 L360.87,66.57 L361.28,67.96L359.79,68.3 L359.47,66.88 L359.2,65.46 L358.99,64.02 L358.8,62.58 L358.65,61.13 L358.53,59.67 L358.41,58.21 L358.31,56.75 L358.2,55.28 L358.09,53.81 L357.96,52.35 L357.81,50.88 L357.63,49.42 L357.42,47.96 L357.16,46.51 L356.85,45.08 L356.49,43.66 L356.06,42.26 L355.57,40.89 L355,39.55" fill="none" stroke="#00f0f0" stroke-width="0.6" stroke-linejoin="round"/>
<path d="M354.95,39.58 L355.49,40.93 L355.94,42.31 L356.33,43.72 L356.65,45.15 L356.91,46.6 L357.12,48.06 L357.28,49.53 L357.4,51 L357.49,52.47 L357.56,53.95 L357.61,55.42 L357.65,56.89 L357.69,58.36 L357.73,59.83 L357.79,61.29 L357.87,62.75 L357.97,64.2 L358.12,65.65 L358.3,67.09 L358.54,68.52L357.02,68.72 L356.88,67.27 L356.79,65.82 L356.74,64.37 L356.72,62.91 L356.73,61.45 L356.76,59.98 L356.8,58.51 L356.85,57.04 L356.88,55.56 L356.91,54.08 L356.92,52.6 L356.9,51.12 L356.84,49.64 L356.75,48.17 L356.6,46.7 L356.4,45.24 L356.13,43.8 L355.8,42.38 L355.39,40.98 L354.89,39.61" fill="none" stroke="#00f0f0" stroke-width="0.6" stroke-linejoin="round"/>
<path d="M354.85,39.63 L355.3,41.01 L355.68,42.42 L355.97,43.86 L356.19,45.31 L356.35,46.78 L356.44,48.25 L356.48,49.73 L356.48,51.21 L356.44,52.7 L356.37,54.18 L356.28,55.66 L356.18,57.14 L356.07,58.61 L355.96,60.08 L355.86,61.55 L355.77,63.01 L355.71,64.47 L355.69,65.93 L355.7,67.38 L355.76,68.83L354.22,68.89 L354.26,67.44 L354.35,65.99 L354.47,64.54 L354.62,63.08 L354.79,61.62 L354.98,60.16 L355.17,58.69 L355.37,57.22 L355.55,55.75 L355.72,54.27 L355.86,52.79 L355.97,51.31 L356.04,49.82 L356.06,48.34 L356.03,46.86 L355.94,45.38 L355.77,43.92 L355.53,42.48 L355.2,41.05 L354.79,39.66" fill="none" stroke="#00f0f0" stroke-width="0.6" stroke-linejoin="round"/>
<path d="M354.74,39.68 L355.12,41.08 L355.4,42.52 L355.6,43.97 L355.72,45.44 L355.77,46.92 L355.75,48.4 L355.68,49.88 L355.55,51.37 L355.38,52.85 L355.18,54.33 L354.95,55.8 L354.7,57.27 L354.44,58.73 L354.17,60.19 L353.91,61.65 L353.67,63.1 L353.44,64.55 L353.24,66 L353.08,67.45 L352.96,68.89L351.43,68.83 L351.64,67.39 L351.9,65.95 L352.19,64.51 L352.51,63.08 L352.84,61.64 L353.19,60.2 L353.54,58.75 L353.88,57.3 L354.21,55.84 L354.52,54.38 L354.79,52.91 L355.03,51.43 L355.23,49.95 L355.37,48.46 L355.45,46.98 L355.47,45.5 L355.4,44.03 L355.25,42.56 L355.01,41.12 L354.68,39.7" fill="none" stroke="#00f0f0" stroke-width="0.6" stroke-linejoin="round"/>
<path d="M354.63,39.72 L354.93,41.15 L355.13,42.6 L355.23,44.07 L355.25,45.54 L355.19,47.03 L355.06,48.51 L354.86,49.99 L354.61,51.47 L354.31,52.93 L353.97,54.4 L353.6,55.85 L353.21,57.3 L352.8,58.74 L352.38,60.17 L351.97,61.6 L351.56,63.02 L351.17,64.44 L350.8,65.86 L350.46,67.29 L350.17,68.72L348.64,68.51 L349.04,67.11 L349.47,65.71 L349.93,64.3 L350.41,62.9 L350.9,61.5 L351.4,60.1 L351.9,58.68 L352.39,57.26 L352.86,55.84 L353.31,54.4 L353.72,52.95 L354.09,51.49 L354.41,50.02 L354.68,48.55 L354.87,47.07 L354.99,45.59 L355.03,44.11 L354.97,42.64 L354.82,41.18 L354.57,39.74" fill="none" stroke="#00f0f0" stroke-width="0.6" stroke-linejoin="round"/>
<path d="M354.52,39.76 L354.73,41.2 L354.85,42.67 L354.86,44.14 L354.78,45.62 L354.61,47.1 L354.36,48.58 L354.04,50.04 L353.67,51.5 L353.24,52.95 L352.76,54.38 L352.26,55.8 L351.72,57.21 L351.16,58.61 L350.6,60.01 L350.03,61.39 L349.46,62.77 L348.91,64.15 L348.38,65.53 L347.87,66.91 L347.4,68.29L345.9,67.96 L346.47,66.61 L347.06,65.26 L347.69,63.91 L348.33,62.56 L348.97,61.21 L349.63,59.86 L350.27,58.5 L350.91,57.12 L351.52,55.74 L352.1,54.34 L352.65,52.92 L353.15,51.49 L353.59,50.05 L353.97,48.59 L354.28,47.13 L354.51,45.65 L354.65,44.17 L354.69,42.7 L354.62,41.23 L354.45,39.78" fill="none" stroke="#00f0f0" stroke-width="0.6" stroke-linejoin="round"/>
<path d="M353.01,39.84 L352.67,41.25 L352.26,42.64 L351.79,44.02 L351.28,45.39 L350.73,46.74 L350.14,48.08 L349.53,49.4 L348.9,50.72 L348.25,52.03 L347.6,53.34 L346.94,54.64 L346.29,55.95 L345.65,57.25 L345.03,58.57 L344.44,59.89 L343.88,61.23 L343.36,62.58 L342.88,63.95 L342.46,65.34 L342.09,66.76L340.67,66.17 L341.13,64.79 L341.64,63.43 L342.21,62.09 L342.81,60.78 L343.46,59.48 L344.13,58.19 L344.82,56.91 L345.53,55.64 L346.25,54.37 L346.98,53.1 L347.7,51.83 L348.41,50.55 L349.11,49.26 L349.78,47.96 L350.42,46.64 L351.03,45.32 L351.59,43.97 L352.1,42.61 L352.56,41.23 L352.94,39.83" fill="none" stroke="#00f0f0" stroke-width="0.6" stroke-linejoin="round"/>
<path d="M352.89,39.81 L352.47,41.2 L351.98,42.57 L351.42,43.92 L350.82,45.25 L350.17,46.56 L349.48,47.85 L348.76,49.13 L348.01,50.39 L347.25,51.64 L346.48,52.88 L345.7,54.12 L344.92,55.36 L344.15,56.6 L343.39,57.85 L342.66,59.1 L341.95,60.37 L341.28,61.65 L340.65,62.96 L340.06,64.29 L339.53,65.64L338.16,64.93 L338.79,63.62 L339.46,62.33 L340.17,61.07 L340.93,59.83 L341.71,58.61 L342.52,57.4 L343.35,56.2 L344.19,55 L345.03,53.8 L345.88,52.6 L346.71,51.4 L347.54,50.18 L348.34,48.95 L349.12,47.71 L349.86,46.45 L350.57,45.16 L351.22,43.86 L351.82,42.53 L352.36,41.17 L352.83,39.8" fill="none" stroke="#00f0f0" stroke-width="0.6" stroke-linejoin="round"/>
<path d="M352.78,39.78 L352.28,41.15 L351.7,42.49 L351.06,43.8 L350.36,45.08 L349.62,46.34 L348.83,47.58 L348.01,48.8 L347.15,50 L346.28,51.18 L345.39,52.36 L344.49,53.52 L343.6,54.68 L342.7,55.84 L341.82,57 L340.95,58.17 L340.1,59.36 L339.28,60.56 L338.5,61.78 L337.76,63.02 L337.07,64.3L335.77,63.47 L336.55,62.25 L337.37,61.05 L338.23,59.89 L339.12,58.74 L340.04,57.61 L340.98,56.49 L341.93,55.37 L342.89,54.26 L343.85,53.15 L344.81,52.03 L345.76,50.91 L346.69,49.76 L347.6,48.6 L348.48,47.42 L349.32,46.21 L350.12,44.98 L350.86,43.72 L351.55,42.43 L352.17,41.11 L352.71,39.77" fill="none" stroke="#00f0f0" stroke-width="0.6" stroke-linejoin="round"/>
<path d="M352.66,39.75 L352.09,41.08 L351.43,42.39 L350.7,43.66 L349.92,44.89 L349.08,46.1 L348.2,47.28 L347.27,48.43 L346.32,49.56 L345.34,50.66 L344.35,51.75 L343.34,52.83 L342.33,53.9 L341.31,54.97 L340.31,56.04 L339.31,57.11 L338.34,58.2 L337.39,59.3 L336.47,60.42 L335.58,61.57 L334.74,62.75L333.52,61.81 L334.44,60.7 L335.4,59.61 L336.39,58.54 L337.41,57.5 L338.45,56.48 L339.51,55.46 L340.58,54.45 L341.65,53.44 L342.73,52.42 L343.79,51.39 L344.84,50.35 L345.88,49.29 L346.88,48.2 L347.86,47.09 L348.79,45.95 L349.68,44.78 L350.51,43.57 L351.28,42.33 L351.98,41.05 L352.6,39.73" fill="none" stroke="#00f0f0" stroke-width="0.6" stroke-linejoin="round"/>
<path d="M352.55,39.71 L351.9,41.01 L351.16,42.27 L350.36,43.5 L349.49,44.68 L348.56,45.82 L347.58,46.93 L346.57,48.01 L345.52,49.06 L344.44,50.08 L343.34,51.08 L342.23,52.06 L341.11,53.03 L339.99,54 L338.88,54.96 L337.77,55.92 L336.68,56.9 L335.6,57.89 L334.55,58.9 L333.53,59.94 L332.55,61L331.42,59.96 L332.47,58.97 L333.56,58 L334.67,57.06 L335.81,56.13 L336.96,55.22 L338.13,54.32 L339.3,53.42 L340.48,52.52 L341.65,51.61 L342.81,50.68 L343.96,49.73 L345.09,48.76 L346.19,47.76 L347.26,46.73 L348.28,45.66 L349.25,44.55 L350.17,43.4 L351.02,42.21 L351.8,40.97 L352.49,39.69" fill="none" stroke="#00f0f0" stroke-width="0.6" stroke-linejoin="round"/>
<path d="M352.44,39.67 L351.71,40.93 L350.9,42.15 L350.02,43.32 L349.06,44.44 L348.05,45.52 L346.99,46.55 L345.89,47.55 L344.75,48.51 L343.58,49.44 L342.39,50.34 L341.19,51.22 L339.97,52.08 L338.75,52.93 L337.53,53.78 L336.32,54.62 L335.12,55.47 L333.94,56.34 L332.77,57.22 L331.63,58.13 L330.52,59.07L329.49,57.94 L330.66,57.07 L331.86,56.24 L333.08,55.43 L334.32,54.64 L335.57,53.86 L336.84,53.08 L338.11,52.31 L339.37,51.52 L340.64,50.72 L341.89,49.9 L343.13,49.06 L344.34,48.19 L345.53,47.28 L346.68,46.33 L347.78,45.34 L348.84,44.3 L349.84,43.21 L350.76,42.07 L351.61,40.88 L352.38,39.64" fill="none" stroke="#00f0f0" stroke-width="0.6" stroke-linejoin="round"/>
<path d="M352.33,39.62 L351.53,40.84 L350.65,42.01 L349.69,43.12 L348.66,44.18 L347.57,45.19 L346.42,46.14 L345.24,47.05 L344.02,47.91 L342.76,48.74 L341.49,49.53 L340.2,50.3 L338.9,51.04 L337.59,51.77 L336.29,52.49 L334.98,53.21 L333.69,53.93 L332.4,54.66 L331.14,55.4 L329.89,56.17 L328.68,56.97L327.74,55.75 L329.01,55.03 L330.31,54.35 L331.62,53.68 L332.95,53.03 L334.3,52.39 L335.64,51.75 L336.99,51.1 L338.34,50.44 L339.69,49.77 L341.02,49.07 L342.34,48.33 L343.63,47.57 L344.89,46.76 L346.12,45.9 L347.31,44.99 L348.44,44.03 L349.51,43.01 L350.51,41.93 L351.44,40.79 L352.28,39.59" fill="none" stroke="#00f0f0" stroke-width="0.6" stroke-linejoin="round"/>
<path d="M352.23,39.57 L351.36,40.74 L350.4,41.86 L349.37,42.91 L348.26,43.9 L347.1,44.82 L345.88,45.69 L344.62,46.51 L343.32,47.27 L342,47.99 L340.65,48.67 L339.28,49.31 L337.91,49.93 L336.52,50.53 L335.14,51.12 L333.76,51.69 L332.38,52.27 L331.02,52.85 L329.66,53.45 L328.33,54.07 L327.02,54.71L326.19,53.42 L327.55,52.86 L328.93,52.33 L330.32,51.82 L331.72,51.32 L333.14,50.82 L334.56,50.32 L335.98,49.82 L337.4,49.29 L338.81,48.75 L340.21,48.17 L341.6,47.56 L342.96,46.9 L344.3,46.19 L345.6,45.43 L346.85,44.61 L348.06,43.73 L349.2,42.79 L350.27,41.77 L351.26,40.69 L352.17,39.54" fill="none" stroke="#00f0f0" stroke-width="0.6" stroke-linejoin="round"/>
<path d="M351.1,38.56 L349.86,39.32 L348.59,40.01 L347.28,40.66 L345.96,41.26 L344.61,41.83 L343.25,42.36 L341.88,42.87 L340.5,43.35 L339.12,43.82 L337.73,44.28 L336.35,44.74 L334.96,45.2 L333.59,45.67 L332.22,46.16 L330.86,46.68 L329.52,47.23 L328.2,47.82 L326.89,48.45 L325.61,49.13 L324.35,49.88L323.76,48.46 L325.06,47.8 L326.39,47.21 L327.73,46.66 L329.09,46.16 L330.46,45.69 L331.85,45.25 L333.24,44.84 L334.65,44.44 L336.05,44.06 L337.46,43.67 L338.87,43.28 L340.28,42.88 L341.68,42.46 L343.08,42.02 L344.46,41.54 L345.83,41.03 L347.18,40.48 L348.51,39.88 L349.8,39.22 L351.07,38.5" fill="none" stroke="#00f0f0" stroke-width="0.6" stroke-linejoin="round"/>
<path d="M351.04,38.46 L349.76,39.14 L348.44,39.76 L347.1,40.33 L345.73,40.84 L344.34,41.3 L342.94,41.73 L341.53,42.12 L340.11,42.49 L338.69,42.83 L337.26,43.17 L335.83,43.49 L334.41,43.82 L332.99,44.15 L331.57,44.49 L330.17,44.86 L328.77,45.26 L327.38,45.69 L326.01,46.16 L324.66,46.69 L323.33,47.27L322.86,45.81 L324.23,45.32 L325.62,44.88 L327.01,44.5 L328.42,44.15 L329.84,43.84 L331.27,43.56 L332.71,43.29 L334.15,43.04 L335.59,42.79 L337.03,42.54 L338.48,42.28 L339.92,42.01 L341.36,41.71 L342.79,41.38 L344.21,41.01 L345.61,40.6 L347,40.14 L348.37,39.62 L349.7,39.05 L351,38.4" fill="none" stroke="#00f0f0" stroke-width="0.6" stroke-linejoin="round"/>
<path d="M350.98,38.36 L349.66,38.97 L348.31,39.51 L346.93,39.98 L345.53,40.4 L344.11,40.76 L342.67,41.08 L341.23,41.36 L339.78,41.6 L338.32,41.82 L336.87,42.02 L335.41,42.21 L333.95,42.4 L332.5,42.58 L331.05,42.78 L329.61,42.99 L328.18,43.23 L326.75,43.5 L325.33,43.82 L323.93,44.17 L322.54,44.58L322.2,43.09 L323.62,42.77 L325.04,42.5 L326.48,42.29 L327.92,42.1 L329.37,41.95 L330.83,41.83 L332.29,41.71 L333.75,41.61 L335.22,41.5 L336.69,41.39 L338.15,41.26 L339.62,41.11 L341.08,40.93 L342.54,40.72 L343.99,40.46 L345.42,40.15 L346.84,39.79 L348.24,39.36 L349.61,38.87 L350.95,38.3" fill="none" stroke="#00f0f0" stroke-width="0.6" stroke-linejoin="round"/>
<path d="M350.92,38.25 L349.57,38.79 L348.19,39.24 L346.78,39.63 L345.35,39.95 L343.9,40.21 L342.44,40.42 L340.97,40.58 L339.5,40.7 L338.03,40.79 L336.55,40.86 L335.08,40.91 L333.61,40.95 L332.14,40.99 L330.67,41.03 L329.21,41.09 L327.75,41.17 L326.3,41.27 L324.85,41.42 L323.41,41.6 L321.98,41.84L321.78,40.32 L323.23,40.18 L324.68,40.09 L326.13,40.04 L327.59,40.02 L329.05,40.03 L330.52,40.06 L331.99,40.1 L333.46,40.15 L334.94,40.18 L336.42,40.21 L337.9,40.22 L339.38,40.2 L340.86,40.14 L342.33,40.05 L343.8,39.9 L345.26,39.7 L346.7,39.43 L348.12,39.1 L349.52,38.69 L350.89,38.19" fill="none" stroke="#00f0f0" stroke-width="0.6" stroke-linejoin="round"/>
<path d="M350.87,38.15 L349.49,38.6 L348.08,38.98 L346.64,39.27 L345.19,39.49 L343.72,39.65 L342.25,39.74 L340.77,39.78 L339.29,39.78 L337.8,39.74 L336.32,39.67 L334.84,39.58 L333.36,39.48 L331.89,39.37 L330.42,39.26 L328.95,39.16 L327.49,39.07 L326.03,39.01 L324.57,38.99 L323.12,39 L321.67,39.06L321.61,37.52 L323.06,37.56 L324.51,37.65 L325.96,37.77 L327.42,37.92 L328.88,38.09 L330.34,38.28 L331.81,38.47 L333.28,38.67 L334.75,38.85 L336.23,39.02 L337.71,39.16 L339.19,39.27 L340.68,39.34 L342.16,39.36 L343.64,39.33 L345.12,39.24 L346.58,39.07 L348.02,38.83 L349.45,38.5 L350.84,38.09" fill="none" stroke="#00f0f0" stroke-width="0.6" stroke-linejoin="round"/>
<path d="M350.82,38.04 L349.42,38.42 L347.98,38.7 L346.53,38.9 L345.06,39.02 L343.58,39.07 L342.1,39.05 L340.62,38.98 L339.13,38.85 L337.65,38.68 L336.17,38.48 L334.7,38.25 L333.23,38 L331.77,37.74 L330.31,37.47 L328.85,37.21 L327.4,36.97 L325.95,36.74 L324.5,36.54 L323.05,36.38 L321.61,36.26L321.67,34.73 L323.11,34.94 L324.55,35.2 L325.99,35.49 L327.42,35.81 L328.86,36.14 L330.3,36.49 L331.75,36.84 L333.2,37.18 L334.66,37.51 L336.12,37.82 L337.59,38.09 L339.07,38.33 L340.55,38.53 L342.04,38.67 L343.52,38.75 L345,38.77 L346.47,38.7 L347.94,38.55 L349.38,38.31 L350.8,37.98" fill="none" stroke="#00f0f0" stroke-width="0.6" stroke-linejoin="round"/>
<path d="M350.78,37.93 L349.35,38.23 L347.9,38.43 L346.43,38.53 L344.96,38.55 L343.47,38.49 L341.99,38.36 L340.51,38.16 L339.03,37.91 L337.57,37.61 L336.1,37.27 L334.65,36.9 L333.2,36.51 L331.76,36.1 L330.33,35.68 L328.9,35.27 L327.48,34.86 L326.06,34.47 L324.64,34.1 L323.21,33.76 L321.78,33.47L321.99,31.94 L323.39,32.34 L324.79,32.77 L326.2,33.23 L327.6,33.71 L329,34.2 L330.4,34.7 L331.82,35.2 L333.24,35.69 L334.66,36.16 L336.1,36.61 L337.55,37.02 L339.01,37.39 L340.48,37.71 L341.95,37.98 L343.43,38.17 L344.91,38.29 L346.39,38.33 L347.86,38.27 L349.32,38.12 L350.76,37.87" fill="none" stroke="#00f0f0" stroke-width="0.6" stroke-linejoin="round"/>
<path d="M350.74,37.82 L349.3,38.03 L347.83,38.15 L346.36,38.16 L344.88,38.08 L343.4,37.91 L341.92,37.66 L340.46,37.34 L339,36.97 L337.55,36.54 L336.12,36.06 L334.7,35.56 L333.29,35.02 L331.89,34.46 L330.49,33.9 L329.11,33.33 L327.73,32.76 L326.35,32.21 L324.97,31.68 L323.59,31.17 L322.21,30.7L322.54,29.2 L323.89,29.77 L325.24,30.36 L326.59,30.99 L327.94,31.63 L329.29,32.27 L330.64,32.93 L332,33.57 L333.38,34.21 L334.76,34.82 L336.16,35.4 L337.58,35.95 L339.01,36.45 L340.45,36.89 L341.91,37.27 L343.37,37.58 L344.85,37.81 L346.33,37.95 L347.8,37.99 L349.27,37.92 L350.72,37.75" fill="none" stroke="#00f0f0" stroke-width="0.6" stroke-linejoin="round"/>
<path d="M350.66,36.31 L349.25,35.97 L347.86,35.56 L346.48,35.09 L345.11,34.58 L343.76,34.03 L342.42,33.44 L341.1,32.83 L339.78,32.2 L338.47,31.55 L337.16,30.9 L335.86,30.24 L334.55,29.59 L333.25,28.95 L331.93,28.33 L330.61,27.74 L329.27,27.18 L327.92,26.66 L326.55,26.18 L325.16,25.76 L323.74,25.39L324.33,23.97 L325.71,24.43 L327.07,24.94 L328.41,25.51 L329.72,26.11 L331.02,26.76 L332.31,27.43 L333.59,28.12 L334.86,28.83 L336.13,29.55 L337.4,30.28 L338.67,31 L339.95,31.71 L341.24,32.41 L342.54,33.08 L343.86,33.72 L345.18,34.33 L346.53,34.89 L347.89,35.4 L349.27,35.86 L350.67,36.24" fill="none" stroke="#00f0f0" stroke-width="0.6" stroke-linejoin="round"/>
<path d="M350.69,36.19 L349.3,35.77 L347.93,35.28 L346.58,34.72 L345.25,34.12 L343.94,33.47 L342.65,32.78 L341.37,32.06 L340.11,31.31 L338.86,30.55 L337.62,29.78 L336.38,29 L335.14,28.22 L333.9,27.45 L332.65,26.69 L331.4,25.96 L330.13,25.25 L328.85,24.58 L327.54,23.95 L326.21,23.36 L324.86,22.83L325.57,21.46 L326.88,22.09 L328.17,22.76 L329.43,23.47 L330.67,24.23 L331.89,25.01 L333.1,25.82 L334.3,26.65 L335.5,27.49 L336.7,28.33 L337.9,29.18 L339.1,30.01 L340.32,30.84 L341.55,31.64 L342.79,32.42 L344.05,33.16 L345.34,33.87 L346.64,34.52 L347.97,35.12 L349.33,35.66 L350.7,36.13" fill="none" stroke="#00f0f0" stroke-width="0.6" stroke-linejoin="round"/>
<path d="M350.72,36.08 L349.35,35.58 L348.01,35 L346.7,34.36 L345.42,33.66 L344.16,32.92 L342.92,32.13 L341.7,31.31 L340.5,30.45 L339.32,29.58 L338.14,28.69 L336.98,27.79 L335.82,26.9 L334.66,26 L333.5,25.12 L332.33,24.25 L331.14,23.4 L329.94,22.58 L328.72,21.8 L327.48,21.06 L326.2,20.37L327.03,19.07 L328.25,19.85 L329.45,20.67 L330.61,21.53 L331.76,22.42 L332.89,23.34 L334.01,24.28 L335.13,25.23 L336.24,26.19 L337.35,27.15 L338.47,28.11 L339.59,29.06 L340.74,29.99 L341.9,30.9 L343.08,31.78 L344.29,32.62 L345.52,33.42 L346.78,34.16 L348.07,34.85 L349.39,35.47 L350.73,36.01" fill="none" stroke="#00f0f0" stroke-width="0.6" stroke-linejoin="round"/>
<path d="M350.75,35.96 L349.42,35.39 L348.11,34.73 L346.84,34 L345.61,33.22 L344.4,32.38 L343.22,31.5 L342.07,30.57 L340.94,29.62 L339.84,28.64 L338.75,27.65 L337.67,26.64 L336.6,25.63 L335.53,24.61 L334.46,23.61 L333.39,22.61 L332.3,21.64 L331.2,20.69 L330.08,19.77 L328.93,18.88 L327.75,18.04L328.69,16.82 L329.8,17.74 L330.89,18.7 L331.96,19.69 L333,20.71 L334.02,21.75 L335.04,22.81 L336.05,23.88 L337.06,24.95 L338.08,26.03 L339.11,27.09 L340.15,28.14 L341.21,29.18 L342.3,30.18 L343.41,31.16 L344.55,32.09 L345.72,32.98 L346.93,33.81 L348.17,34.58 L349.45,35.28 L350.77,35.9" fill="none" stroke="#00f0f0" stroke-width="0.6" stroke-linejoin="round"/>
<path d="M350.79,35.85 L349.49,35.2 L348.23,34.46 L347,33.66 L345.82,32.79 L344.68,31.86 L343.57,30.88 L342.49,29.87 L341.44,28.82 L340.42,27.74 L339.42,26.64 L338.44,25.53 L337.47,24.41 L336.5,23.29 L335.54,22.18 L334.58,21.07 L333.6,19.98 L332.61,18.9 L331.6,17.85 L330.56,16.83 L329.5,15.85L330.54,14.72 L331.53,15.77 L332.5,16.86 L333.44,17.97 L334.37,19.11 L335.28,20.26 L336.18,21.43 L337.08,22.6 L337.98,23.78 L338.89,24.95 L339.82,26.11 L340.77,27.26 L341.74,28.39 L342.74,29.49 L343.77,30.56 L344.84,31.58 L345.95,32.55 L347.1,33.47 L348.29,34.32 L349.53,35.1 L350.81,35.79" fill="none" stroke="#00f0f0" stroke-width="0.6" stroke-linejoin="round"/>
<path d="M350.83,35.74 L349.57,35.01 L348.35,34.2 L347.18,33.32 L346.06,32.36 L344.98,31.35 L343.95,30.29 L342.95,29.19 L341.99,28.05 L341.06,26.88 L340.16,25.69 L339.28,24.49 L338.42,23.27 L337.57,22.05 L336.72,20.83 L335.88,19.62 L335.03,18.42 L334.16,17.24 L333.28,16.07 L332.37,14.93 L331.43,13.82L332.56,12.79 L333.43,13.96 L334.26,15.16 L335.07,16.38 L335.86,17.62 L336.64,18.87 L337.42,20.14 L338.19,21.41 L338.98,22.67 L339.78,23.94 L340.6,25.19 L341.44,26.43 L342.31,27.64 L343.22,28.83 L344.17,29.98 L345.16,31.08 L346.2,32.14 L347.29,33.14 L348.43,34.06 L349.62,34.91 L350.86,35.68" fill="none" stroke="#00f0f0" stroke-width="0.6" stroke-linejoin="round"/>
<path d="M350.88,35.63 L349.66,34.83 L348.49,33.95 L347.38,32.99 L346.32,31.96 L345.31,30.87 L344.36,29.72 L343.45,28.54 L342.59,27.32 L341.76,26.06 L340.97,24.79 L340.2,23.5 L339.46,22.2 L338.73,20.89 L338.01,19.59 L337.29,18.28 L336.57,16.99 L335.84,15.7 L335.1,14.44 L334.33,13.19 L333.53,11.98L334.75,11.04 L335.47,12.31 L336.15,13.61 L336.82,14.92 L337.47,16.25 L338.11,17.6 L338.75,18.94 L339.4,20.29 L340.06,21.64 L340.73,22.99 L341.43,24.32 L342.17,25.64 L342.93,26.93 L343.74,28.19 L344.6,29.42 L345.51,30.61 L346.47,31.74 L347.49,32.81 L348.57,33.81 L349.71,34.74 L350.91,35.58" fill="none" stroke="#00f0f0" stroke-width="0.6" stroke-linejoin="round"/>
<path d="M350.93,35.53 L349.76,34.66 L348.64,33.7 L347.59,32.67 L346.6,31.56 L345.68,30.4 L344.81,29.18 L343.99,27.92 L343.23,26.62 L342.51,25.3 L341.83,23.95 L341.19,22.58 L340.57,21.21 L339.97,19.82 L339.38,18.44 L338.81,17.06 L338.23,15.68 L337.65,14.32 L337.05,12.96 L336.43,11.63 L335.79,10.32L337.08,9.49 L337.64,10.85 L338.17,12.23 L338.68,13.62 L339.18,15.02 L339.68,16.44 L340.18,17.86 L340.68,19.28 L341.21,20.7 L341.75,22.11 L342.33,23.51 L342.94,24.9 L343.6,26.26 L344.31,27.6 L345.07,28.9 L345.89,30.15 L346.77,31.36 L347.71,32.5 L348.73,33.57 L349.81,34.56 L350.96,35.47" fill="none" stroke="#00f0f0" stroke-width="0.6" stroke-linejoin="round"/>
<polyline points="443.9,36.2 443.86,36.02 444,35.63 444.32,35.04 444.8,34.24 445.44,33.25 446.22,32.09 447.11,30.77 448.1,29.3 449.14,27.72 450.24,26.03 451.35,24.27 452.45,22.47 453.54,20.66 454.59,18.87 455.58,17.13 456.52,15.48 457.39,13.95 458.18,12.57 458.89,11.37 459.53,10.38 460.08,9.62 460.55,9.11 460.94,8.85 461.24,8.87 461.45,9.15 461.57,9.7 461.6,10.5 461.52,11.54 461.33,12.79 461.03,14.23 460.62,15.84 460.09,17.57 459.45,19.39 458.69,21.28 457.84,23.19 456.89,25.1 455.87,26.96 454.8,28.75 453.7,30.44 452.59,32 451.5,33.42 450.47,34.67 449.51,35.74 448.66,36.62 447.94,37.3 447.37,37.76 446.96,38.01 446.74,38.05 446.7,37.87 446.84,37.48 447.16,36.89 447.66,36.09 448.31,35.11 449.1,33.95 450,32.63 451,31.17 452.06,29.59 453.16,27.91 454.29,26.16 455.41,24.37 456.51,22.56 457.58,20.77 458.59,19.04 459.54,17.39 460.42,15.87 461.22,14.49 461.95,13.3 462.59,12.31 463.15,11.55 463.63,11.04 464.02,10.79 464.32,10.81 464.53,11.09 464.65,11.64 464.67,12.44 464.58,13.48 464.38,14.73 464.07,16.17 463.64,17.77 463.1,19.5 462.44,21.32 461.67,23.21 460.8,25.11 459.84,27.01 458.8,28.87 457.72,30.65 456.6,32.33 455.48,33.89 454.38,35.3 453.33,36.55 452.37,37.62 451.51,38.49 450.78,39.16 450.21,39.62 449.8,39.87 449.57,39.9 449.54,39.72 449.68,39.33 450.01,38.74 450.51,37.94 451.17,36.97 451.97,35.81 452.89,34.5 453.89,33.04 454.97,31.47 456.09,29.79 457.23,28.05 458.37,26.26 459.49,24.46 460.57,22.68 461.6,20.95 462.56,19.31 463.46,17.78 464.27,16.41 465.01,15.22 465.66,14.24 466.23,13.48 466.71,12.97 467.1,12.73 467.4,12.74 467.61,13.03 467.72,13.58 467.73,14.38 467.64,15.42 467.43,16.67 467.11,18.11 466.67,19.71 466.11,21.43 465.43,23.25 464.65,25.13 463.76,27.04 462.78,28.93 461.73,30.78 460.63,32.56 459.5,34.23 458.37,35.78 457.26,37.19 456.2,38.43 455.23,39.49 454.36,40.35 453.63,41.02 453.05,41.47 452.64,41.72 452.41,41.75 452.37,41.57 452.53,41.18 452.86,40.59 453.37,39.8 454.04,38.82 454.85,37.67 455.77,36.36 456.79,34.91 457.88,33.34 459.02,31.68 460.18,29.94 461.33,28.15 462.47,26.36 463.56,24.58 464.6,22.86 465.58,21.22 466.49,19.7 467.32,18.34 468.07,17.15 468.73,16.17 469.3,15.41 469.79,14.91 470.18,14.66 470.48,14.68 470.69,14.97 470.8,15.52 470.8,16.32 470.7,17.36 470.48,18.61 470.15,20.05 469.69,21.64 469.12,23.37 468.43,25.18 467.63,27.06 466.72,28.96 465.73,30.84 464.66,32.69 463.55,34.46 462.4,36.13 461.25,37.67 460.13,39.07 459.07,40.3 458.08,41.36 457.21,42.22 456.47,42.88 455.89,43.33 455.48,43.57 455.25,43.6 455.21,43.42 455.37,43.03 455.71,42.44 456.23,41.65 456.9,40.68 457.72,39.53 458.66,38.23 459.69,36.78 460.8,35.22 461.95,33.56 463.12,31.82 464.29,30.05 465.44,28.26 466.55,26.49 467.61,24.77 468.6,23.14 469.53,21.62 470.37,20.26 471.12,19.07 471.79,18.09 472.37,17.34 472.86,16.84 473.26,16.6 473.57,16.62 473.77,16.91 473.87,17.46 473.87,18.26 473.76,19.3 473.53,20.55 473.18,21.98 472.72,23.58 472.13,25.3 471.42,27.11 470.61,28.99 469.69,30.88 468.68,32.76 467.6,34.6 466.46,36.36 465.3,38.02 464.14,39.56 463.01,40.95 461.93,42.18 460.94,43.22 460.06,44.08 459.31,44.73 458.73,45.18 458.31,45.42 458.09,45.45 458.05,45.27 458.21,44.88 458.56,44.29 459.08,43.5 459.77,42.53 460.6,41.39 461.55,40.09 462.59,38.65 463.71,37.09 464.88,35.44 466.06,33.71 467.25,31.94 468.42,30.16 469.54,28.39 470.62,26.68 471.63,25.05 472.56,23.54 473.41,22.18 474.18,21 474.86,20.02 475.45,19.28 475.94,18.78 476.34,18.53 476.65,18.56 476.85,18.85 476.95,19.4 476.94,20.2 476.82,21.24 476.58,22.49 476.22,23.92 475.74,25.52 475.14,27.23 474.42,29.04 473.58,30.91 472.65,32.8 471.62,34.68 470.53,36.51 469.38,38.27 468.2,39.92 467.03,41.45 465.88,42.84 464.8,44.05 463.79,45.09 462.91,45.94 462.16,46.59 461.57,47.04 461.15,47.27 460.92,47.3 460.89,47.12 461.05,46.73 461.41,46.14 461.94,45.36 462.63,44.39 463.47,43.25 464.43,41.96 465.49,40.52 466.63,38.97 467.81,37.32 469.01,35.6 470.21,33.83 471.39,32.05 472.54,30.29 473.62,28.59 474.65,26.96 475.6,25.46 476.46,24.1 477.24,22.92 477.93,21.95 478.52,21.21 479.02,20.71 479.42,20.47 479.73,20.49 479.93,20.79 480.02,21.34 480.01,22.14 479.88,23.18 479.63,24.43 479.26,25.86 478.76,27.45 478.15,29.17 477.41,30.97 476.56,32.84 475.61,34.72 474.57,36.59 473.46,38.42 472.29,40.17 471.1,41.82 469.92,43.34 468.76,44.72 467.66,45.93 466.65,46.96 465.75,47.81 465,48.45 464.4,48.89 463.99,49.13 463.76,49.15 463.73,48.97 463.9,48.58 464.26,47.99 464.79,47.21 465.5,46.25 466.35,45.11 467.32,43.82 468.39,42.39 469.54,40.85 470.73,39.2 471.95,37.49 473.17,35.73 474.37,33.95 475.53,32.2 476.63,30.5 477.67,28.88 478.63,27.38 479.51,26.02 480.3,24.85 480.99,23.88 481.6,23.14 482.1,22.64 482.51,22.4 482.81,22.43 483.01,22.72 483.1,23.28 483.08,24.08 482.94,25.12 482.68,26.36 482.3,27.8 481.79,29.39 481.16,31.1 480.41,32.9 479.54,34.76 478.57,36.64 477.51,38.51 476.39,40.33 475.21,42.07 474,43.71 472.8,45.23 471.63,46.6 470.53,47.81 469.51,48.83 468.6,49.67 467.84,50.31 467.24,50.75 466.83,50.98 466.6,51 466.57,50.82 466.74,50.43 467.1,49.84 467.65,49.06 468.36,48.1 469.22,46.97 470.21,45.69 471.29,44.26 472.45,42.72 473.66,41.08 474.9,39.37 476.13,37.62 477.34,35.85 478.52,34.1 479.64,32.4 480.69,30.79 481.67,29.29 482.56,27.95 483.35,26.77 484.06,25.81 484.67,25.07 485.18,24.58 485.59,24.34 485.89,24.37 486.09,24.66 486.17,25.22 486.14,26.02 486,27.06 485.73,28.3 485.33,29.74 484.81,31.32 484.17,33.03 483.4,34.83 482.52,36.69 481.53,38.56 480.46,40.42 479.32,42.24 478.12,43.97 476.9,45.61 475.69,47.12 474.51,48.48 473.39,49.68 472.36,50.7 471.45,51.54 470.69,52.17 470.08,52.6 469.66,52.83 469.44,52.85 469.41,52.66 469.58,52.28 469.95,51.69 470.5,50.92 471.23,49.96 472.1,48.83 473.09,47.55 474.19,46.13 475.37,44.6 476.59,42.96 477.84,41.26 479.09,39.51 480.32,37.75 481.51,36.01 482.65,34.31 483.71,32.7 484.7,31.21 485.6,29.87 486.41,28.7 487.13,27.74 487.74,27 488.26,26.51 488.67,26.28 488.97,26.31 489.17,26.6 489.25,27.16 489.21,27.96 489.06,29 488.78,30.24 488.37,31.67 487.84,33.26 487.18,34.97 486.39,36.76 485.5,38.61 484.49,40.48 483.41,42.34 482.25,44.14 481.04,45.88 479.81,47.51 478.58,49.01 477.38,50.37 476.25,51.56 475.22,52.57 474.3,53.4 473.53,54.03 472.92,54.46 472.5,54.68 472.27,54.7 472.25,54.51 472.43,54.13 472.8,53.54 473.36,52.77 474.09,51.81 474.97,50.69 475.98,49.42 477.09,48 478.28,46.47 479.52,44.85 480.78,43.15 482.05,41.41 483.3,39.65 484.5,37.91 485.65,36.22 486.73,34.62 487.74,33.13 488.65,31.79 489.47,30.63 490.19,29.67 490.82,28.93 491.34,28.44 491.75,28.21 492.05,28.24 492.25,28.54 492.32,29.1 492.28,29.9 492.12,30.94 491.83,32.18 491.41,33.61 490.86,35.19 490.18,36.9 489.39,38.69 488.47,40.54 487.46,42.4 486.35,44.25 485.17,46.05 483.95,47.78 482.71,49.4 481.47,50.9 480.26,52.25 479.12,53.43 478.07,54.44 477.15,55.26 476.37,55.89 475.76,56.31 475.34,56.53 475.11,56.55 475.09,56.36 475.27,55.97 475.65,55.39 476.22,54.62 476.95,53.67 477.85,52.55 478.87,51.28 479.99,49.87 481.19,48.35 482.45,46.73 483.73,45.03 485.01,43.3 486.27,41.55 487.49,39.82 488.66,38.13 489.76,36.53 490.77,35.05 491.7,33.71 492.53,32.55 493.26,31.6 493.89,30.86 494.41,30.38 494.83,30.15 495.13,30.18 495.32,30.48 495.4,31.04 495.35,31.84 495.18,32.88 494.87,34.12 494.44,35.55 493.88,37.13 493.19,38.83 492.38,40.62 491.45,42.46 490.42,44.32 489.3,46.17 488.1,47.96 486.87,49.68 485.61,51.3 484.35,52.79 483.14,54.13 481.98,55.31 480.93,56.31 480,57.13 479.21,57.75 478.6,58.17 478.18,58.39 477.95,58.4 477.93,58.21 478.11,57.82 478.5,57.24 479.07,56.47 479.82,55.53 480.72,54.41 481.75,53.15 482.89,51.75 484.11,50.22 485.38,48.61 486.67,46.92 487.97,45.19 489.25,43.45 490.49,41.72 491.67,40.04 492.78,38.45 493.81,36.97 494.74,35.63 495.59,34.48 496.33,33.52 496.96,32.8 497.49,32.31 497.91,32.08 498.22,32.12 498.4,32.42 498.47,32.97 498.42,33.78 498.24,34.81 497.92,36.06 497.48,37.49 496.91,39.06 496.2,40.76 495.37,42.55 494.43,44.39 493.38,46.24 492.24,48.08 491.03,49.87 489.78,51.58 488.51,53.19 487.24,54.67 486.01,56.01 484.85,57.18 483.78,58.18 482.85,58.99 482.06,59.61 481.44,60.02 481.01,60.24 480.79,60.25 480.77,60.06 480.96,59.67 481.35,59.09 481.93,58.33 482.68,57.38 483.6,56.27 484.64,55.01 485.79,53.62 487.02,52.1 488.3,50.49 489.62,48.81 490.93,47.08 492.22,45.35 493.48,43.62 494.67,41.95 495.8,40.36 496.84,38.88 497.79,37.56 498.64,36.4 499.39,35.45 500.04,34.73 500.57,34.25 500.99,34.02 501.3,34.06 501.48,34.36 501.55,34.91 501.49,35.72 501.3,36.75 500.97,38 500.52,39.42 499.93,41 499.21,42.7 498.37,44.48 497.41,46.31 496.34,48.16 495.19,49.99 493.96,51.78 492.69,53.48 491.41,55.09 490.13,56.56 488.89,57.89 487.71,59.06 486.64,60.05 485.69,60.85 484.9,61.47 484.28,61.88 483.85,62.09 483.62,62.1 483.61,61.91 483.8,61.52 484.19,60.94 484.78,60.18 485.55,59.24 486.47,58.13 487.53,56.88 488.69,55.49 489.93,53.98 491.23,52.37 492.56,50.7 493.89,48.98 495.2,47.24 496.47,45.53 497.68,43.86 498.82,42.27 499.88,40.8 500.84,39.48 501.7,38.33 502.46,37.38 503.11,36.66 503.65,36.18 504.07,35.96 504.38,35.99 504.56,36.29 504.62,36.85 504.55,37.66 504.35,38.69 504.02,39.94 503.55,41.36 502.95,42.93 502.22,44.63 501.36,46.41 500.38,48.24 499.3,50.08 498.13,51.91 496.89,53.69 495.61,55.39 494.31,56.98 493.01,58.45 491.76,59.77 490.58,60.93 489.5,61.92 488.54,62.72 487.74,63.32 487.12,63.73 486.69,63.94 486.46,63.95 486.45,63.76 486.64,63.37 487.04,62.8 487.64,62.03 488.41,61.1 489.35,60 490.41,58.74 491.59,57.36 492.85,55.85 494.16,54.25 495.5,52.58 496.85,50.87 498.17,49.14 499.46,47.43 500.69,45.77 501.84,44.19 502.91,42.72 503.89,41.4 504.76,40.25 505.53,39.31 506.19,38.59 506.73,38.11 507.15,37.89 507.46,37.93 507.64,38.23 507.7,38.79 507.62,39.6 507.41,40.63 507.07,41.87 506.59,43.3 505.98,44.87 505.23,46.56 504.35,48.34 503.36,50.16 502.26,52 501.08,53.82 499.82,55.59 498.52,57.29 497.21,58.88 495.9,60.34 494.64,61.66 493.44,62.81 492.35,63.79 491.39,64.58 490.59,65.18 489.96,65.59 489.53,65.79 489.3,65.8" fill="none" stroke="#1e1ec8" stroke-width="1.1" stroke-linejoin="round"/>
<path d="M565.4,31.9 L575.5,30.1 C578.1,24.8 579.9,12.8 582.1,12.8 C584.3,12.8 586.7,19.8 585.7,23.5 L575,36.7 L584.5,35.8 C585.7,28.8 589,17.7 591.2,17.7 C593.4,17.7 595.8,24.7 594.8,28.4 L584.1,41.6 L593.6,40.7 C594.8,33.7 598.1,22.6 600.3,22.6 C602.5,22.6 604.9,29.6 603.9,33.3 L593.2,46.5 L602.7,45.6 C603.9,38.6 607.2,27.5 609.4,27.5 C611.6,27.5 614,34.5 613,38.2 L602.3,51.4 L611.8,50.5 C613,43.5 616.3,32.4 618.5,32.4 C620.7,32.4 623.1,39.4 622.1,43.1 L611.4,56.3 L620.9,55.4 C622.1,48.4 625.4,37.3 627.6,37.3 C629.8,37.3 632.2,44.3 631.2,48 L620.5,61.2 L626.1,60.7 " fill="none" stroke="#e04444" stroke-width="0.95" stroke-linejoin="round"/>
<ellipse cx="695.5" cy="14.6" rx="14.12" ry="3" transform="rotate(-28.83 695.5 14.6)" fill="none" stroke="#3ee03e" stroke-width="1.15"/>
<path d="M684.2,14 Q695.5,12 706.09,13.4" transform="rotate(-28.83 695.5 14.6)" fill="none" stroke="#3ee03e" stroke-width="1.8" stroke-linecap="round"/>
<ellipse cx="702.6" cy="22.23" rx="14.12" ry="3" transform="rotate(-28.83 702.6 22.23)" fill="none" stroke="#3ee03e" stroke-width="1.15"/>
<path d="M691.3,21.63 Q702.6,19.63 713.19,21.03" transform="rotate(-28.83 702.6 22.23)" fill="none" stroke="#3ee03e" stroke-width="1.8" stroke-linecap="round"/>
<ellipse cx="709.7" cy="29.86" rx="14.12" ry="3" transform="rotate(-28.83 709.7 29.86)" fill="none" stroke="#3ee03e" stroke-width="1.15"/>
<path d="M698.4,29.26 Q709.7,27.26 720.29,28.66" transform="rotate(-28.83 709.7 29.86)" fill="none" stroke="#3ee03e" stroke-width="1.8" stroke-linecap="round"/>
<ellipse cx="716.8" cy="37.49" rx="14.12" ry="3" transform="rotate(-28.83 716.8 37.49)" fill="none" stroke="#3ee03e" stroke-width="1.15"/>
<path d="M705.5,36.89 Q716.8,34.89 727.39,36.29" transform="rotate(-28.83 716.8 37.49)" fill="none" stroke="#3ee03e" stroke-width="1.8" stroke-linecap="round"/>
<ellipse cx="723.9" cy="45.12" rx="14.12" ry="3" transform="rotate(-28.83 723.9 45.12)" fill="none" stroke="#3ee03e" stroke-width="1.15"/>
<path d="M712.6,44.52 Q723.9,42.52 734.49,43.92" transform="rotate(-28.83 723.9 45.12)" fill="none" stroke="#3ee03e" stroke-width="1.8" stroke-linecap="round"/>
<ellipse cx="731" cy="52.75" rx="14.12" ry="3" transform="rotate(-28.83 731 52.75)" fill="none" stroke="#3ee03e" stroke-width="1.15"/>
<path d="M719.7,52.15 Q731,50.15 741.59,51.55" transform="rotate(-28.83 731 52.75)" fill="none" stroke="#3ee03e" stroke-width="1.8" stroke-linecap="round"/>
<path d="M725.71,67.16 A12.04,3 -31.7 0 0 746.7,54.2" transform="" fill="none" stroke="#3ee03e" stroke-width="1.15"/>
<path d="M726.32,60.24 Q735.95,58.24 744.98,59.64" transform="rotate(-31.7 735.95 60.84)" fill="none" stroke="#3ee03e" stroke-width="1.8" stroke-linecap="round"/>
<path d="M697.5,6 Q690,11.5 684.5,18.5" fill="none" stroke="#3ee03e" stroke-width="1.3" stroke-linecap="round"/>
</svg></body></html>
